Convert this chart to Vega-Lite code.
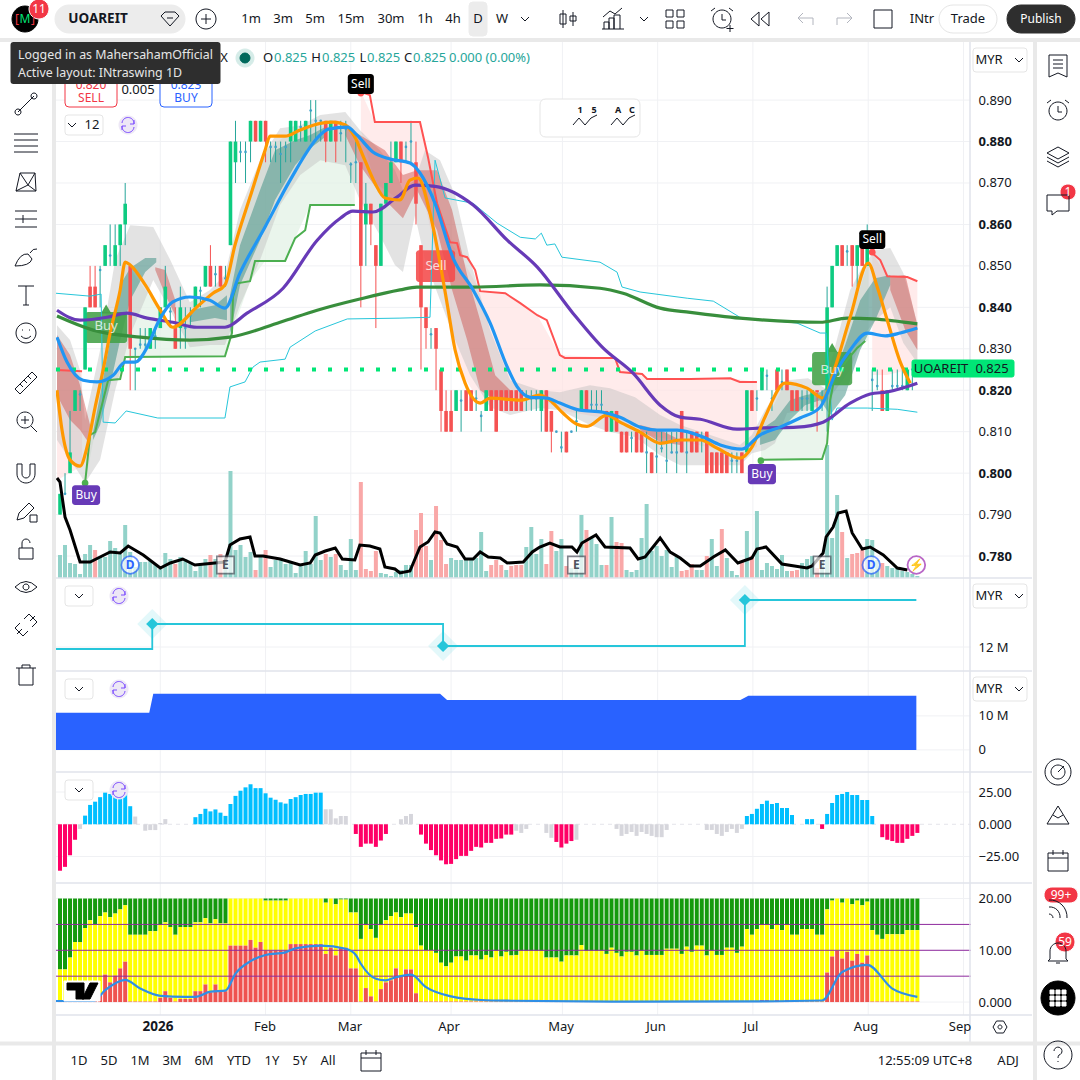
{
"$schema":"https://vega.github.io/schema/vega-lite/v6.json",
"width":1080,"height":1080,"padding":0,"autosize":{"type":"none"},"background":"#ffffff",
"config":{"view":{"stroke":null},"axis":{"disable":true},"legend":{"disable":true},"text":{"font":"Noto Sans","baseline":"middle"},"font":"Noto Sans"},
"resolve":{"scale":{"x":"independent","y":"independent"}},
"datasets":{
"candles":[
{"i":0,"o":0.79,"c":0.795,"h":0.795,"l":0.79,"d":"u"},{"i":1,"o":0.795,"c":0.795,"h":0.8,"l":0.795,"d":"n"},{"i":2,"o":0.8,"c":0.805,"h":0.815,"l":0.8,"d":"u"},{"i":3,"o":0.815,"c":0.82,"h":0.82,"l":0.815,"d":"u"},{"i":4,"o":0.819,"c":0.819,"h":0.82,"l":0.815,"d":"n"},{"i":5,"o":0.825,"c":0.84,"h":0.84,"l":0.825,"d":"u"},{"i":6,"o":0.845,"c":0.84,"h":0.85,"l":0.84,"d":"d"},{"i":7,"o":0.845,"c":0.84,"h":0.85,"l":0.84,"d":"d"},{"i":8,"o":0.849,"c":0.849,"h":0.85,"l":0.84,"d":"n"},{"i":9,"o":0.85,"c":0.855,"h":0.855,"l":0.85,"d":"u"},
{"i":10,"o":0.8525,"c":0.8525,"h":0.86,"l":0.85,"d":"n"},{"i":11,"o":0.85,"c":0.855,"h":0.86,"l":0.85,"d":"u"},{"i":12,"o":0.855,"c":0.86,"h":0.86,"l":0.85,"d":"u"},{"i":13,"o":0.86,"c":0.865,"h":0.87,"l":0.855,"d":"u"},{"i":14,"o":0.85,"c":0.83,"h":0.85,"l":0.82,"d":"d"},{"i":15,"o":0.83,"c":0.83,"h":0.83,"l":0.82,"d":"n"},{"i":16,"o":0.831,"c":0.831,"h":0.835,"l":0.83,"d":"n"},{"i":17,"o":0.831,"c":0.831,"h":0.835,"l":0.83,"d":"n"},{"i":18,"o":0.83,"c":0.835,"h":0.835,"l":0.83,"d":"u"},{"i":19,"o":0.833,"c":0.833,"h":0.835,"l":0.83,"d":"n"},
{"i":20,"o":0.835,"c":0.84,"h":0.84,"l":0.835,"d":"u"},{"i":21,"o":0.84,"c":0.845,"h":0.85,"l":0.84,"d":"u"},{"i":22,"o":0.839,"c":0.839,"h":0.84,"l":0.835,"d":"n"},{"i":23,"o":0.835,"c":0.83,"h":0.84,"l":0.83,"d":"d"},{"i":24,"o":0.835,"c":0.84,"h":0.845,"l":0.83,"d":"u"},{"i":25,"o":0.835,"c":0.835,"h":0.84,"l":0.83,"d":"n"},{"i":26,"o":0.838,"c":0.838,"h":0.84,"l":0.835,"d":"n"},{"i":27,"o":0.84,"c":0.845,"h":0.845,"l":0.84,"d":"u"},{"i":28,"o":0.844,"c":0.844,"h":0.845,"l":0.84,"d":"n"},{"i":29,"o":0.845,"c":0.85,"h":0.85,"l":0.845,"d":"u"},
{"i":30,"o":0.85,"c":0.845,"h":0.855,"l":0.845,"d":"d"},{"i":31,"o":0.848,"c":0.848,"h":0.85,"l":0.845,"d":"n"},{"i":32,"o":0.85,"c":0.845,"h":0.85,"l":0.845,"d":"d"},{"i":33,"o":0.847,"c":0.847,"h":0.85,"l":0.845,"d":"n"},{"i":34,"o":0.855,"c":0.88,"h":0.88,"l":0.855,"d":"u"},{"i":35,"o":0.875,"c":0.88,"h":0.885,"l":0.87,"d":"u"},{"i":36,"o":0.8775,"c":0.8775,"h":0.88,"l":0.875,"d":"n"},{"i":37,"o":0.8775,"c":0.8775,"h":0.88,"l":0.87,"d":"n"},{"i":38,"o":0.88,"c":0.885,"h":0.885,"l":0.875,"d":"u"},{"i":39,"o":0.885,"c":0.88,"h":0.885,"l":0.88,"d":"d"},
{"i":40,"o":0.88,"c":0.885,"h":0.885,"l":0.88,"d":"u"},{"i":41,"o":0.885,"c":0.88,"h":0.885,"l":0.875,"d":"d"},{"i":42,"o":0.8787,"c":0.8787,"h":0.88,"l":0.875,"d":"n"},{"i":43,"o":0.8787,"c":0.8787,"h":0.88,"l":0.875,"d":"n"},{"i":44,"o":0.877,"c":0.877,"h":0.88,"l":0.87,"d":"n"},{"i":45,"o":0.8787,"c":0.8787,"h":0.88,"l":0.875,"d":"n"},{"i":46,"o":0.88,"c":0.885,"h":0.885,"l":0.875,"d":"u"},{"i":47,"o":0.88,"c":0.885,"h":0.885,"l":0.88,"d":"u"},{"i":48,"o":0.8835,"c":0.8835,"h":0.885,"l":0.88,"d":"n"},{"i":49,"o":0.88,"c":0.885,"h":0.885,"l":0.88,"d":"u"},
{"i":50,"o":0.8875,"c":0.8875,"h":0.89,"l":0.88,"d":"n"},{"i":51,"o":0.885,"c":0.885,"h":0.89,"l":0.88,"d":"n"},{"i":52,"o":0.885,"c":0.885,"h":0.885,"l":0.88,"d":"n"},{"i":53,"o":0.885,"c":0.88,"h":0.885,"l":0.875,"d":"d"},{"i":54,"o":0.88,"c":0.885,"h":0.885,"l":0.88,"d":"u"},{"i":55,"o":0.885,"c":0.88,"h":0.885,"l":0.875,"d":"d"},{"i":56,"o":0.882,"c":0.882,"h":0.885,"l":0.88,"d":"n"},{"i":57,"o":0.883,"c":0.883,"h":0.885,"l":0.875,"d":"n"},{"i":58,"o":0.8745,"c":0.8745,"h":0.875,"l":0.87,"d":"n"},{"i":59,"o":0.875,"c":0.875,"h":0.88,"l":0.87,"d":"n"},
{"i":60,"o":0.875,"c":0.85,"h":0.875,"l":0.84,"d":"d"},{"i":61,"o":0.86,"c":0.865,"h":0.87,"l":0.85,"d":"u"},{"i":62,"o":0.865,"c":0.86,"h":0.865,"l":0.855,"d":"d"},{"i":63,"o":0.855,"c":0.85,"h":0.855,"l":0.835,"d":"d"},{"i":64,"o":0.85,"c":0.865,"h":0.865,"l":0.85,"d":"u"},{"i":65,"o":0.865,"c":0.87,"h":0.87,"l":0.865,"d":"u"},{"i":66,"o":0.87,"c":0.875,"h":0.88,"l":0.87,"d":"u"},{"i":67,"o":0.875,"c":0.88,"h":0.88,"l":0.875,"d":"u"},{"i":68,"o":0.88,"c":0.875,"h":0.88,"l":0.87,"d":"d"},{"i":69,"o":0.8787,"c":0.8787,"h":0.88,"l":0.875,"d":"n"},
{"i":70,"o":0.88,"c":0.88,"h":0.885,"l":0.875,"d":"n"},{"i":71,"o":0.875,"c":0.865,"h":0.88,"l":0.86,"d":"d"},{"i":72,"o":0.855,"c":0.84,"h":0.855,"l":0.825,"d":"d"},{"i":73,"o":0.84,"c":0.835,"h":0.84,"l":0.83,"d":"d"},{"i":74,"o":0.8335,"c":0.8335,"h":0.835,"l":0.83,"d":"n"},{"i":75,"o":0.835,"c":0.83,"h":0.835,"l":0.82,"d":"d"},{"i":76,"o":0.825,"c":0.815,"h":0.825,"l":0.81,"d":"d"},{"i":77,"o":0.815,"c":0.81,"h":0.82,"l":0.81,"d":"d"},{"i":78,"o":0.815,"c":0.81,"h":0.82,"l":0.81,"d":"d"},{"i":79,"o":0.815,"c":0.82,"h":0.82,"l":0.815,"d":"u"},
{"i":80,"o":0.8175,"c":0.8175,"h":0.82,"l":0.81,"d":"n"},{"i":81,"o":0.82,"c":0.815,"h":0.82,"l":0.815,"d":"d"},{"i":82,"o":0.82,"c":0.815,"h":0.82,"l":0.815,"d":"d"},{"i":83,"o":0.818,"c":0.818,"h":0.82,"l":0.815,"d":"n"},{"i":84,"o":0.8138,"c":0.8138,"h":0.815,"l":0.81,"d":"n"},{"i":85,"o":0.815,"c":0.82,"h":0.82,"l":0.815,"d":"u"},{"i":86,"o":0.82,"c":0.815,"h":0.82,"l":0.815,"d":"d"},{"i":87,"o":0.82,"c":0.81,"h":0.82,"l":0.81,"d":"d"},{"i":88,"o":0.82,"c":0.815,"h":0.82,"l":0.815,"d":"d"},{"i":89,"o":0.82,"c":0.815,"h":0.82,"l":0.815,"d":"d"},
{"i":90,"o":0.82,"c":0.815,"h":0.82,"l":0.815,"d":"d"},{"i":91,"o":0.82,"c":0.815,"h":0.82,"l":0.815,"d":"d"},{"i":92,"o":0.82,"c":0.815,"h":0.82,"l":0.815,"d":"d"},{"i":93,"o":0.818,"c":0.818,"h":0.82,"l":0.815,"d":"n"},{"i":94,"o":0.818,"c":0.818,"h":0.82,"l":0.815,"d":"n"},{"i":95,"o":0.818,"c":0.818,"h":0.82,"l":0.815,"d":"n"},{"i":96,"o":0.815,"c":0.82,"h":0.82,"l":0.81,"d":"u"},{"i":97,"o":0.82,"c":0.81,"h":0.82,"l":0.81,"d":"d"},{"i":98,"o":0.815,"c":0.81,"h":0.815,"l":0.805,"d":"d"},{"i":99,"o":0.81,"c":0.81,"h":0.81,"l":0.81,"d":"n"},
{"i":100,"o":0.8062,"c":0.8062,"h":0.81,"l":0.805,"d":"n"},{"i":101,"o":0.81,"c":0.805,"h":0.81,"l":0.805,"d":"d"},{"i":102,"o":0.81,"c":0.81,"h":0.81,"l":0.81,"d":"n"},{"i":103,"o":0.8125,"c":0.8125,"h":0.815,"l":0.81,"d":"n"},{"i":104,"o":0.815,"c":0.82,"h":0.82,"l":0.815,"d":"u"},{"i":105,"o":0.82,"c":0.815,"h":0.82,"l":0.815,"d":"d"},{"i":106,"o":0.8165,"c":0.8165,"h":0.82,"l":0.815,"d":"n"},{"i":107,"o":0.8165,"c":0.8165,"h":0.82,"l":0.815,"d":"n"},{"i":108,"o":0.8165,"c":0.8165,"h":0.82,"l":0.815,"d":"n"},{"i":109,"o":0.815,"c":0.81,"h":0.815,"l":0.81,"d":"d"},
{"i":110,"o":0.81,"c":0.815,"h":0.815,"l":0.81,"d":"u"},{"i":111,"o":0.815,"c":0.81,"h":0.815,"l":0.81,"d":"d"},{"i":112,"o":0.81,"c":0.805,"h":0.81,"l":0.805,"d":"d"},{"i":113,"o":0.81,"c":0.805,"h":0.81,"l":0.805,"d":"d"},{"i":114,"o":0.8085,"c":0.8085,"h":0.81,"l":0.805,"d":"n"},{"i":115,"o":0.81,"c":0.805,"h":0.81,"l":0.805,"d":"d"},{"i":116,"o":0.81,"c":0.805,"h":0.81,"l":0.805,"d":"d"},{"i":117,"o":0.805,"c":0.805,"h":0.81,"l":0.8,"d":"n"},{"i":118,"o":0.805,"c":0.8,"h":0.805,"l":0.8,"d":"d"},{"i":119,"o":0.804,"c":0.804,"h":0.81,"l":0.8,"d":"n"},
{"i":120,"o":0.806,"c":0.806,"h":0.81,"l":0.805,"d":"n"},{"i":121,"o":0.803,"c":0.803,"h":0.81,"l":0.8,"d":"n"},{"i":122,"o":0.805,"c":0.805,"h":0.81,"l":0.805,"d":"n"},{"i":123,"o":0.805,"c":0.805,"h":0.81,"l":0.8,"d":"n"},{"i":124,"o":0.815,"c":0.805,"h":0.815,"l":0.805,"d":"d"},{"i":125,"o":0.805,"c":0.805,"h":0.81,"l":0.8,"d":"n"},{"i":126,"o":0.81,"c":0.805,"h":0.81,"l":0.805,"d":"d"},{"i":127,"o":0.81,"c":0.805,"h":0.81,"l":0.805,"d":"d"},{"i":128,"o":0.8085,"c":0.8085,"h":0.81,"l":0.805,"d":"n"},{"i":129,"o":0.81,"c":0.8,"h":0.81,"l":0.8,"d":"d"},
{"i":130,"o":0.805,"c":0.8,"h":0.805,"l":0.8,"d":"d"},{"i":131,"o":0.805,"c":0.8,"h":0.805,"l":0.8,"d":"d"},{"i":132,"o":0.805,"c":0.8,"h":0.805,"l":0.8,"d":"d"},{"i":133,"o":0.805,"c":0.8,"h":0.805,"l":0.8,"d":"d"},{"i":134,"o":0.803,"c":0.803,"h":0.805,"l":0.8,"d":"n"},{"i":135,"o":0.803,"c":0.803,"h":0.805,"l":0.8,"d":"n"},{"i":136,"o":0.805,"c":0.8,"h":0.805,"l":0.8,"d":"d"},{"i":137,"o":0.805,"c":0.82,"h":0.82,"l":0.805,"d":"u"},{"i":138,"o":0.82,"c":0.815,"h":0.82,"l":0.815,"d":"d"},{"i":139,"o":0.818,"c":0.818,"h":0.82,"l":0.815,"d":"n"},
{"i":140,"o":0.82,"c":0.825,"h":0.825,"l":0.82,"d":"u"},{"i":141,"o":0.8235,"c":0.8235,"h":0.825,"l":0.82,"d":"n"},{"i":142,"o":0.818,"c":0.818,"h":0.82,"l":0.815,"d":"n"},{"i":143,"o":0.825,"c":0.82,"h":0.825,"l":0.82,"d":"d"},{"i":144,"o":0.822,"c":0.822,"h":0.825,"l":0.82,"d":"n"},{"i":145,"o":0.825,"c":0.82,"h":0.825,"l":0.82,"d":"d"},{"i":146,"o":0.82,"c":0.815,"h":0.82,"l":0.815,"d":"d"},{"i":147,"o":0.82,"c":0.815,"h":0.82,"l":0.815,"d":"d"},{"i":148,"o":0.818,"c":0.818,"h":0.82,"l":0.815,"d":"n"},{"i":149,"o":0.818,"c":0.818,"h":0.82,"l":0.815,"d":"n"},
{"i":150,"o":0.815,"c":0.82,"h":0.82,"l":0.815,"d":"u"},{"i":151,"o":0.82,"c":0.8195,"h":0.82,"l":0.81,"d":"d"},{"i":152,"o":0.818,"c":0.818,"h":0.82,"l":0.815,"d":"n"},{"i":153,"o":0.82,"c":0.84,"h":0.845,"l":0.81,"d":"u"},{"i":154,"o":0.84,"c":0.85,"h":0.85,"l":0.84,"d":"u"},{"i":155,"o":0.85,"c":0.855,"h":0.855,"l":0.85,"d":"u"},{"i":156,"o":0.855,"c":0.85,"h":0.855,"l":0.85,"d":"d"},{"i":157,"o":0.8535,"c":0.8535,"h":0.855,"l":0.85,"d":"n"},{"i":158,"o":0.855,"c":0.85,"h":0.855,"l":0.845,"d":"d"},{"i":159,"o":0.85,"c":0.855,"h":0.855,"l":0.845,"d":"u"},
{"i":160,"o":0.855,"c":0.85,"h":0.855,"l":0.85,"d":"d"},{"i":161,"o":0.85,"c":0.855,"h":0.86,"l":0.85,"d":"u"},{"i":162,"o":0.8225,"c":0.8225,"h":0.825,"l":0.815,"d":"n"},{"i":163,"o":0.821,"c":0.821,"h":0.825,"l":0.82,"d":"n"},{"i":164,"o":0.82,"c":0.815,"h":0.825,"l":0.815,"d":"d"},{"i":165,"o":0.815,"c":0.82,"h":0.82,"l":0.815,"d":"u"},{"i":166,"o":0.821,"c":0.821,"h":0.825,"l":0.82,"d":"n"},{"i":167,"o":0.821,"c":0.821,"h":0.825,"l":0.82,"d":"n"},{"i":168,"o":0.821,"c":0.821,"h":0.825,"l":0.82,"d":"n"},{"i":169,"o":0.82,"c":0.825,"h":0.825,"l":0.82,"d":"u"},{"i":170,"o":0.825,"c":0.825,"h":0.825,"l":0.82,"d":"n"},{"i":171,"o":0.825,"c":0.825,"h":0.825,"l":0.825,"d":"n"}
],
"vol":[{"i":0,"v":23},{"i":1,"v":33},{"i":2,"v":15},{"i":3,"v":14},{"i":4,"v":4},{"i":5,"v":24},{"i":6,"v":33},{"i":7,"v":28,"w":1},{"i":8,"v":21},{"i":9,"v":21},{"i":10,"v":37},{"i":11,"v":30},{"i":12,"v":24},{"i":13,"v":53},{"i":14,"v":26},{"i":15,"v":11},{"i":16,"v":16},{"i":17,"v":16},{"i":18,"v":17},{"i":19,"v":14},{"i":20,"v":9},{"i":21,"v":25},{"i":22,"v":19},{"i":23,"v":14,"w":1},{"i":24,"v":21},{"i":25,"v":19},{"i":26,"v":16},{"i":27,"v":7},{"i":28,"v":13},{"i":29,"v":19},{"i":30,"v":23,"w":1},{"i":31,"v":19},{"i":32,"v":24,"w":1},{"i":33,"v":20},{"i":34,"v":107},{"i":35,"v":28},{"i":36,"v":33},{"i":37,"v":21},{"i":38,"v":26},{"i":39,"v":8,"w":1},{"i":40,"v":21},{"i":41,"v":28,"w":1},{"i":42,"v":11},{"i":43,"v":18},{"i":44,"v":20},{"i":45,"v":14},{"i":46,"v":16},{"i":47,"v":5},{"i":48,"v":14},{"i":49,"v":27},{"i":50,"v":14},{"i":51,"v":62},{"i":52,"v":18},{"i":53,"v":24,"w":1},{"i":54,"v":21},{"i":55,"v":24,"w":1},{"i":56,"v":13},{"i":57,"v":8},{"i":58,"v":39},{"i":59,"v":8},{"i":60,"v":96,"w":1},{"i":61,"v":9,"w":1},{"i":62,"v":7,"w":1},{"i":63,"v":27,"w":1},{"i":64,"v":5},{"i":65,"v":4},{"i":66,"v":2},{"i":67,"v":6},{"i":68,"v":8},{"i":69,"v":13},{"i":70,"v":13},{"i":71,"v":48,"w":1},{"i":72,"v":65,"w":1},{"i":73,"v":32,"w":1},{"i":74,"v":18},{"i":75,"v":72,"w":1},{"i":76,"v":38,"w":1},{"i":77,"v":14,"w":1},{"i":78,"v":20},{"i":79,"v":18},{"i":80,"v":18},{"i":81,"v":18},{"i":82,"v":20},{"i":83,"v":20},{"i":84,"v":46},{"i":85,"v":7},{"i":86,"v":13,"w":1},{"i":87,"v":18,"w":1},{"i":88,"v":13,"w":1},{"i":89,"v":8},{"i":90,"v":12,"w":1},{"i":91,"v":13,"w":1},{"i":92,"v":13,"w":1},{"i":93,"v":31},{"i":94,"v":51},{"i":95,"v":24},{"i":96,"v":39},{"i":97,"v":14,"w":1},{"i":98,"v":47,"w":1},{"i":99,"v":27},{"i":100,"v":39},{"i":101,"v":12,"w":1},{"i":102,"v":10},{"i":103,"v":15},{"i":104,"v":63},{"i":105,"v":48,"w":1},{"i":106,"v":40},{"i":107,"v":34},{"i":108,"v":13},{"i":109,"v":13,"w":1},{"i":110,"v":61},{"i":111,"v":36,"w":1},{"i":112,"v":35,"w":1},{"i":113,"v":8},{"i":114,"v":6},{"i":115,"v":8},{"i":116,"v":40},{"i":117,"v":74},{"i":118,"v":27},{"i":119,"v":32},{"i":120,"v":22},{"i":121,"v":28},{"i":122,"v":11},{"i":123,"v":22},{"i":124,"v":7,"w":1},{"i":125,"v":8,"w":1},{"i":126,"v":14,"w":1},{"i":127,"v":8},{"i":128,"v":8},{"i":129,"v":22,"w":1},{"i":130,"v":39},{"i":131,"v":12},{"i":132,"v":49,"w":1},{"i":133,"v":20},{"i":134,"v":7},{"i":135,"v":3},{"i":136,"v":17,"w":1},{"i":137,"v":47},{"i":138,"v":22,"w":1},{"i":139,"v":67},{"i":140,"v":8},{"i":141,"v":15},{"i":142,"v":12},{"i":143,"v":9},{"i":144,"v":23},{"i":145,"v":7},{"i":146,"v":7,"w":1},{"i":147,"v":8,"w":1},{"i":148,"v":15},{"i":149,"v":19},{"i":150,"v":22},{"i":151,"v":10,"w":1},{"i":152,"v":18},{"i":153,"v":133},{"i":154,"v":40},{"i":155,"v":83},{"i":156,"v":46,"w":1},{"i":157,"v":20},{"i":158,"v":24,"w":1},{"i":159,"v":25,"w":1},{"i":160,"v":28,"w":1},{"i":161,"v":39},{"i":162,"v":38},{"i":163,"v":18},{"i":164,"v":15,"w":1},{"i":165,"v":12},{"i":166,"v":10},{"i":167,"v":10},{"i":168,"v":7},{"i":169,"v":6},{"i":170,"v":4},{"i":171,"v":2}],
"volline":[{"i":-0.6,"v":100},{"i":0,"v":96},{"i":1,"v":61},{"i":2,"v":48},{"i":4,"v":16},{"i":6,"v":16},{"i":8,"v":21},{"i":10,"v":26},{"i":12,"v":25},{"i":13.6,"v":32},{"i":16.6,"v":23},{"i":20,"v":10},{"i":22,"v":15},{"i":24.5,"v":19},{"i":26.9,"v":13},{"i":30.9,"v":15},{"i":32.9,"v":16},{"i":33.9,"v":33},{"i":35.9,"v":39},{"i":37.9,"v":41},{"i":38.9,"v":22},{"i":40.5,"v":22},{"i":43.9,"v":19},{"i":47.9,"v":13},{"i":49.9,"v":15},{"i":50.9,"v":23},{"i":52.9,"v":27},{"i":54.9,"v":30},{"i":56.3,"v":19},{"i":58.8,"v":18},{"i":59.8,"v":33},{"i":61.8,"v":32},{"i":63.8,"v":29},{"i":64.8,"v":11},{"i":66.8,"v":9},{"i":67.8,"v":5},{"i":69.8,"v":7},{"i":71.8,"v":31},{"i":73.4,"v":36},{"i":74.8,"v":46},{"i":75.8,"v":45},{"i":77.2,"v":34},{"i":79.2,"v":31},{"i":80.8,"v":19},{"i":82.4,"v":19},{"i":83.8,"v":26},{"i":85.4,"v":21},{"i":87.8,"v":20},{"i":89.2,"v":15},{"i":92.4,"v":16},{"i":94.2,"v":26},{"i":95.7,"v":31},{"i":97.7,"v":35},{"i":99.7,"v":31},{"i":102.1,"v":31},{"i":103.1,"v":26},{"i":104.1,"v":35},{"i":106.9,"v":43},{"i":108.7,"v":31},{"i":113.7,"v":30},{"i":115.3,"v":19},{"i":116.7,"v":21},{"i":119.7,"v":40},{"i":121.7,"v":26},{"i":123.7,"v":20},{"i":125.7,"v":12},{"i":127.7,"v":12},{"i":130.3,"v":21},{"i":132.7,"v":28},{"i":135.2,"v":15},{"i":138,"v":20},{"i":139,"v":29},{"i":140.8,"v":31},{"i":144,"v":14},{"i":149,"v":10},{"i":150,"v":12},{"i":152.2,"v":25},{"i":152.8,"v":41},{"i":154.2,"v":51},{"i":155.2,"v":65},{"i":156.8,"v":67},{"i":158,"v":45},{"i":160,"v":29},{"i":161.6,"v":31},{"i":164.2,"v":23},{"i":167,"v":10},{"i":169,"v":8}],
"orange":[{"i":-0.6,"p":0.82},{"i":0.4,"p":0.8104},{"i":2,"p":0.8032},{"i":4,"p":0.8017},{"i":5.4,"p":0.8063},{"i":7,"p":0.8159},{"i":8.6,"p":0.8249},{"i":10,"p":0.8338},{"i":12,"p":0.8442},{"i":13,"p":0.8509},{"i":14,"p":0.8502},{"i":17,"p":0.8454},{"i":20,"p":0.8393},{"i":22.5,"p":0.8352},{"i":27.3,"p":0.8401},{"i":30.5,"p":0.8434},{"i":32.9,"p":0.8454},{"i":34.9,"p":0.855},{"i":37.9,"p":0.8666},{"i":40.9,"p":0.8779},{"i":41.9,"p":0.8813},{"i":44.9,"p":0.8813},{"i":47.9,"p":0.8828},{"i":51.9,"p":0.8844},{"i":54.5,"p":0.8847},{"i":56.9,"p":0.884},{"i":58.8,"p":0.8811},{"i":60.8,"p":0.8755},{"i":62.8,"p":0.87},{"i":64.8,"p":0.8664},{"i":67.8,"p":0.8659},{"i":69.8,"p":0.8707},{"i":71.4,"p":0.8712},{"i":73.8,"p":0.8627},{"i":75.8,"p":0.8507},{"i":77.2,"p":0.841},{"i":78.8,"p":0.8297},{"i":80.8,"p":0.8217},{"i":83.8,"p":0.8169},{"i":85.8,"p":0.8181},{"i":91.8,"p":0.8176},{"i":95.7,"p":0.8188},{"i":97.7,"p":0.8176},{"i":100.3,"p":0.8145},{"i":103.1,"p":0.8118},{"i":105.1,"p":0.8113},{"i":109.1,"p":0.814},{"i":111.7,"p":0.8123},{"i":115.7,"p":0.8099},{"i":119.7,"p":0.8072},{"i":123.7,"p":0.808},{"i":127.7,"p":0.808},{"i":131.1,"p":0.806},{"i":135.6,"p":0.8036},{"i":138,"p":0.8063},{"i":140.6,"p":0.8135},{"i":144.6,"p":0.8217},{"i":149,"p":0.8205},{"i":152.2,"p":0.8181},{"i":154.6,"p":0.8256},{"i":157.6,"p":0.8376},{"i":161.2,"p":0.8507},{"i":163,"p":0.8449},{"i":165,"p":0.8369},{"i":167.6,"p":0.8268},{"i":169.6,"p":0.8217}],
"blue":[{"i":-0.6,"p":0.8328},{"i":1.4,"p":0.8268},{"i":4.6,"p":0.8224},{"i":7.4,"p":0.822},{"i":10.6,"p":0.8236},{"i":13,"p":0.8268},{"i":15,"p":0.8268},{"i":17.4,"p":0.8304},{"i":19.5,"p":0.8362},{"i":22.5,"p":0.8413},{"i":25.9,"p":0.8425},{"i":29.9,"p":0.8417},{"i":32.9,"p":0.8398},{"i":35.9,"p":0.8483},{"i":40.9,"p":0.8594},{"i":45.9,"p":0.8707},{"i":51.9,"p":0.8816},{"i":53.5,"p":0.883},{"i":57.3,"p":0.8835},{"i":59.2,"p":0.8816},{"i":62.4,"p":0.8775},{"i":65.8,"p":0.8758},{"i":69.8,"p":0.8748},{"i":71.8,"p":0.8724},{"i":74.8,"p":0.8651},{"i":78.4,"p":0.8519},{"i":82.4,"p":0.8442},{"i":85.8,"p":0.8362},{"i":89.2,"p":0.8256},{"i":91.2,"p":0.8208},{"i":93.8,"p":0.8183},{"i":97.1,"p":0.8181},{"i":99.7,"p":0.8169},{"i":103.7,"p":0.8152},{"i":108.3,"p":0.8147},{"i":111.7,"p":0.8135},{"i":115.7,"p":0.8111},{"i":119.1,"p":0.8104},{"i":123.1,"p":0.8104},{"i":128.3,"p":0.8087},{"i":131.7,"p":0.8068},{"i":136,"p":0.8058},{"i":139.6,"p":0.8092},{"i":143.6,"p":0.8111},{"i":147.6,"p":0.8133},{"i":151.6,"p":0.8159},{"i":155,"p":0.8249},{"i":157.6,"p":0.8297},{"i":161,"p":0.8338},{"i":164.6,"p":0.8331},{"i":167.6,"p":0.8338},{"i":171,"p":0.835}],
"purple":[{"i":-0.6,"p":0.8393},{"i":4,"p":0.8369},{"i":9.4,"p":0.8376},{"i":13.4,"p":0.8386},{"i":17.4,"p":0.8374},{"i":22.5,"p":0.8364},{"i":27.3,"p":0.8352},{"i":32.9,"p":0.8352},{"i":37.3,"p":0.8386},{"i":44.5,"p":0.8446},{"i":51.3,"p":0.8562},{"i":55.9,"p":0.8615},{"i":58.4,"p":0.8632},{"i":62.4,"p":0.863},{"i":67.2,"p":0.8666},{"i":70.8,"p":0.8695},{"i":74.8,"p":0.8692},{"i":82.4,"p":0.8647},{"i":89.2,"p":0.8562},{"i":95.2,"p":0.8497},{"i":102.3,"p":0.8386},{"i":108.3,"p":0.8302},{"i":114.3,"p":0.8241},{"i":119.7,"p":0.8164},{"i":123.7,"p":0.8135},{"i":127.7,"p":0.813},{"i":135,"p":0.8106},{"i":140.2,"p":0.8109},{"i":147,"p":0.8111},{"i":152.2,"p":0.8123},{"i":157.6,"p":0.8169},{"i":161.6,"p":0.8191},{"i":165,"p":0.8196},{"i":171,"p":0.8217}],
"green":[{"i":-0.6,"p":0.8379},{"i":6.6,"p":0.8345},{"i":16,"p":0.8328},{"i":25.9,"p":0.8321},{"i":33.9,"p":0.8328},{"i":43.9,"p":0.8364},{"i":51.3,"p":0.8393},{"i":59.8,"p":0.842},{"i":67.8,"p":0.8442},{"i":71.2,"p":0.8449},{"i":82.4,"p":0.8449},{"i":95.7,"p":0.8454},{"i":107.7,"p":0.8446},{"i":112.3,"p":0.8434},{"i":119.7,"p":0.8398},{"i":125.7,"p":0.8388},{"i":135.6,"p":0.8374},{"i":151.6,"p":0.8364},{"i":157,"p":0.8374},{"i":162.2,"p":0.8372},{"i":171,"p":0.836}],
"cyan":[{"i":-0.8,"p":0.8434},{"i":6,"p":0.8427},{"i":8.2,"p":0.8432},{"i":8.6,"p":0.8123},{"i":11,"p":0.8121},{"i":13.2,"p":0.815},{"i":19.5,"p":0.8133},{"i":32.9,"p":0.8133},{"i":33.9,"p":0.8208},{"i":36.9,"p":0.822},{"i":38.5,"p":0.8256},{"i":39.9,"p":0.8268},{"i":44.9,"p":0.8275},{"i":45.9,"p":0.8304},{"i":50.9,"p":0.8343},{"i":57.3,"p":0.8372},{"i":67.8,"p":0.8374},{"i":73.8,"p":0.8376},{"i":74.8,"p":0.8755},{"i":76.8,"p":0.8664},{"i":82.4,"p":0.8651},{"i":87.2,"p":0.8603},{"i":91.8,"p":0.8569},{"i":94.8,"p":0.8565},{"i":96,"p":0.8579},{"i":97.1,"p":0.855},{"i":98.7,"p":0.8553},{"i":100.1,"p":0.8521},{"i":107.7,"p":0.8509},{"i":111.1,"p":0.8485},{"i":112.1,"p":0.8449},{"i":115.7,"p":0.8437},{"i":125.1,"p":0.8422},{"i":130.3,"p":0.8415},{"i":135.6,"p":0.8376},{"i":147,"p":0.8362},{"i":151.6,"p":0.8338},{"i":152.8,"p":0.8338},{"i":154,"p":0.8128},{"i":155,"p":0.8157},{"i":161,"p":0.8157},{"i":167,"p":0.8154},{"i":171,"p":0.8147}],
"redtrail":[{"s":0,"i":-0.6,"p":0.8249},{"s":0,"i":4.4,"p":0.8246},{"s":1,"i":60,"p":0.892},{"s":1,"i":61.8,"p":0.8912},{"s":1,"i":62.8,"p":0.8847},{"s":1,"i":71.8,"p":0.8847},{"s":1,"i":73.4,"p":0.8762},{"s":1,"i":75.2,"p":0.8651},{"s":1,"i":77.8,"p":0.8557},{"s":1,"i":79.2,"p":0.8555},{"s":1,"i":79.8,"p":0.8526},{"s":1,"i":81.2,"p":0.8521},{"s":1,"i":82.8,"p":0.849},{"s":1,"i":83.8,"p":0.8439},{"s":1,"i":88.8,"p":0.8434},{"s":1,"i":91.8,"p":0.841},{"s":1,"i":95.2,"p":0.8381},{"s":1,"i":97.1,"p":0.8369},{"s":1,"i":99.7,"p":0.8285},{"s":1,"i":100.7,"p":0.8278},{"s":1,"i":110.7,"p":0.8278},{"s":1,"i":111.7,"p":0.8244},{"s":1,"i":116.1,"p":0.8239},{"s":1,"i":117.1,"p":0.8227},{"s":1,"i":125.7,"p":0.8227},{"s":1,"i":133.7,"p":0.8229},{"s":1,"i":135.6,"p":0.822},{"s":1,"i":139,"p":0.822},{"s":2,"i":162,"p":0.8531},{"s":2,"i":163.6,"p":0.8514},{"s":2,"i":165,"p":0.8475},{"s":2,"i":169,"p":0.8473},{"s":2,"i":171,"p":0.8463}],
"pinkfill":[{"s":0,"i":-0.6,"a":0.8249,"b":0.7983},{"s":0,"i":4.4,"a":0.8246,"b":0.8017},{"s":1,"i":60,"a":0.892,"b":0.8828},{"s":1,"i":62.8,"a":0.8847,"b":0.87},{"s":1,"i":67.8,"a":0.8847,"b":0.8659},{"s":1,"i":71.8,"a":0.8847,"b":0.8707},{"s":1,"i":75.2,"a":0.8651,"b":0.8514},{"s":1,"i":77.8,"a":0.8557,"b":0.8345},{"s":1,"i":79.8,"a":0.8526,"b":0.8249},{"s":1,"i":83.8,"a":0.8439,"b":0.8169},{"s":1,"i":88.8,"a":0.8434,"b":0.8176},{"s":1,"i":95.2,"a":0.8381,"b":0.8186},{"s":1,"i":99.7,"a":0.8285,"b":0.8152},{"s":1,"i":110.7,"a":0.8278,"b":0.8128},{"s":1,"i":117.1,"a":0.8227,"b":0.8092},{"s":1,"i":125.7,"a":0.8227,"b":0.8072},{"s":1,"i":133.7,"a":0.8229,"b":0.8051},{"s":1,"i":139,"a":0.822,"b":0.8063},{"s":2,"i":162,"a":0.8531,"b":0.8237},{"s":2,"i":165,"a":0.8475,"b":0.8237},{"s":2,"i":169,"a":0.8473,"b":0.8249},{"s":2,"i":171,"a":0.8463,"b":0.8249}],
"greenfill":[{"s":0,"i":5,"a":0.7983,"b":0.7976},{"s":0,"i":7,"a":0.8176,"b":0.8099},{"s":0,"i":9.6,"a":0.8333,"b":0.8224},{"s":0,"i":12,"a":0.8442,"b":0.8227},{"s":0,"i":13,"a":0.8509,"b":0.828},{"s":0,"i":20,"a":0.8393,"b":0.828},{"s":0,"i":22.5,"a":0.8352,"b":0.828},{"s":0,"i":27.3,"a":0.8401,"b":0.828},{"s":0,"i":32.9,"a":0.8454,"b":0.828},{"s":0,"i":34.3,"a":0.8526,"b":0.8338},{"s":0,"i":37.9,"a":0.8666,"b":0.8463},{"s":0,"i":40.9,"a":0.8779,"b":0.8512},{"s":0,"i":44.9,"a":0.8813,"b":0.8512},{"s":0,"i":46.9,"a":0.882,"b":0.8567},{"s":0,"i":49.9,"a":0.8835,"b":0.8647},{"s":0,"i":57.8,"a":0.884,"b":0.8647},{"s":0,"i":58.8,"a":0.8811,"b":0.8647},{"s":1,"i":139.8,"a":0.8104,"b":0.8032},{"s":1,"i":144.6,"a":0.8217,"b":0.8032},{"s":1,"i":149,"a":0.8205,"b":0.8032},{"s":1,"i":152,"a":0.8181,"b":0.8034},{"s":1,"i":153,"a":0.82,"b":0.8072},{"s":1,"i":154.6,"a":0.8256,"b":0.8237},{"s":1,"i":157.6,"a":0.8376,"b":0.8285},{"s":1,"i":161.2,"a":0.8507,"b":0.8321}],
"greentrail":[{"s":0,"i":5,"p":0.7976},{"s":0,"i":6,"p":0.8092},{"s":0,"i":7,"p":0.8099},{"s":0,"i":9.6,"p":0.8224},{"s":0,"i":12,"p":0.8227},{"s":0,"i":13,"p":0.828},{"s":0,"i":32.9,"p":0.8282},{"s":0,"i":34.3,"p":0.8338},{"s":0,"i":34.5,"p":0.8425},{"s":0,"i":35.3,"p":0.8458},{"s":0,"i":37.9,"p":0.8463},{"s":0,"i":38.9,"p":0.8512},{"s":0,"i":44.9,"p":0.8512},{"s":0,"i":46.9,"p":0.8567},{"s":0,"i":48.9,"p":0.8586},{"s":0,"i":49.9,"p":0.8647},{"s":0,"i":58.8,"p":0.8647},{"s":1,"i":139.8,"p":0.8032},{"s":1,"i":152,"p":0.8034},{"s":1,"i":153,"p":0.8072},{"s":1,"i":153.6,"p":0.8176},{"s":1,"i":154.6,"p":0.8237},{"s":1,"i":159,"p":0.8302},{"s":1,"i":160.6,"p":0.8319}],
"cloud":[{"i":-0.6,"a":0.8357,"b":0.808},{"i":2,"a":0.8321,"b":0.8032},{"i":4,"a":0.8248,"b":0.7996},{"i":5,"a":0.8128,"b":0.7976},{"i":8,"a":0.8297,"b":0.8032},{"i":11,"a":0.8514,"b":0.82},{"i":14,"a":0.8598,"b":0.8333},{"i":18.6,"a":0.8594,"b":0.8466},{"i":22,"a":0.8514,"b":0.8393},{"i":25.9,"a":0.8412,"b":0.8304},{"i":29.9,"a":0.8442,"b":0.8309},{"i":32.9,"a":0.8478,"b":0.8309},{"i":35.9,"a":0.8635,"b":0.8405},{"i":39.9,"a":0.8755,"b":0.8514},{"i":43.9,"a":0.8832,"b":0.8647},{"i":47.9,"a":0.8839,"b":0.8719},{"i":51.9,"a":0.8864,"b":0.8755},{"i":56.9,"a":0.8871,"b":0.8743},{"i":59.8,"a":0.8828,"b":0.8659},{"i":63.8,"a":0.8779,"b":0.8574},{"i":66.8,"a":0.8731,"b":0.8502},{"i":68.4,"a":0.8683,"b":0.8485},{"i":70.8,"a":0.8707,"b":0.8622},{"i":72.8,"a":0.8779,"b":0.8514},{"i":75.8,"a":0.8755,"b":0.8417},{"i":78.8,"a":0.8671,"b":0.8321},{"i":81.8,"a":0.8514,"b":0.8236},{"i":85.8,"a":0.8345,"b":0.8159},{"i":89.8,"a":0.8224,"b":0.814},{"i":95.7,"a":0.82,"b":0.8157},{"i":99.7,"a":0.8195,"b":0.8152},{"i":105.7,"a":0.8212,"b":0.8116},{"i":109.7,"a":0.8205,"b":0.8099},{"i":114.7,"a":0.8183,"b":0.8087},{"i":119.7,"a":0.814,"b":0.8043},{"i":123.7,"a":0.8116,"b":0.8019},{"i":129.7,"a":0.8092,"b":0.8019},{"i":135.6,"a":0.8068,"b":0.8019},{"i":138,"a":0.8092,"b":0.8048},{"i":140.6,"a":0.8152,"b":0.8056},{"i":142.6,"a":0.8188,"b":0.8072},{"i":145,"a":0.8224,"b":0.8145},{"i":149.2,"a":0.8229,"b":0.8152},{"i":152.6,"a":0.8205,"b":0.8169},{"i":153.6,"a":0.8261,"b":0.8183},{"i":157.6,"a":0.8442,"b":0.8249},{"i":160,"a":0.8497,"b":0.8328},{"i":162.6,"a":0.8538,"b":0.8369},{"i":165.6,"a":0.8543,"b":0.84},{"i":168.2,"a":0.8483,"b":0.8314},{"i":171,"a":0.8362,"b":0.8266}],
"tealband":[{"s":1,"i":6.6,"a":0.8099,"b":0.808},{"s":1,"i":8,"a":0.8188,"b":0.8116},{"s":1,"i":10,"a":0.8321,"b":0.8212},{"s":1,"i":12,"a":0.8454,"b":0.8321},{"s":1,"i":14,"a":0.8495,"b":0.8417},{"s":1,"i":17,"a":0.8519,"b":0.8485},{"s":1,"i":19.2,"a":0.8519,"b":0.8509},{"s":2,"i":25.9,"a":0.8393,"b":0.8364},{"s":2,"i":30.9,"a":0.8405,"b":0.8374},{"s":2,"i":33.3,"a":0.8429,"b":0.8369},{"s":3,"i":33.9,"a":0.8429,"b":0.8333},{"s":3,"i":35.9,"a":0.855,"b":0.8454},{"s":3,"i":39.9,"a":0.8683,"b":0.8562},{"s":3,"i":42.9,"a":0.8779,"b":0.8659},{"s":3,"i":46.9,"a":0.8803,"b":0.8743},{"s":3,"i":49.9,"a":0.8816,"b":0.8784},{"s":3,"i":52.9,"a":0.8835,"b":0.8811},{"s":4,"i":139.6,"a":0.8104,"b":0.8068},{"s":4,"i":142.6,"a":0.8128,"b":0.808},{"s":4,"i":145.6,"a":0.8176,"b":0.8128},{"s":4,"i":148.6,"a":0.8188,"b":0.8164},{"s":4,"i":151.6,"a":0.8195,"b":0.8176},{"s":4,"i":153.6,"a":0.8212,"b":0.814},{"s":4,"i":156.6,"a":0.8309,"b":0.8188},{"s":4,"i":159.6,"a":0.8417,"b":0.8297},{"s":4,"i":162.6,"a":0.847,"b":0.8369},{"s":4,"i":165.6,"a":0.8478,"b":0.8454}],
"redband":[{"s":1,"i":-0.6,"a":0.8333,"b":0.8188},{"s":1,"i":2,"a":0.8285,"b":0.8128},{"s":1,"i":4,"a":0.8212,"b":0.8104},{"s":1,"i":6,"a":0.8116,"b":0.8068},{"s":2,"i":19,"a":0.8497,"b":0.849},{"s":2,"i":21,"a":0.849,"b":0.843},{"s":2,"i":23,"a":0.8417,"b":0.8381},{"s":3,"i":56.9,"a":0.884,"b":0.8816},{"s":3,"i":59.8,"a":0.8816,"b":0.8743},{"s":3,"i":64.8,"a":0.8779,"b":0.8659},{"s":3,"i":68.4,"a":0.8719,"b":0.8615},{"s":3,"i":71.2,"a":0.8731,"b":0.8683},{"s":3,"i":75.2,"a":0.8731,"b":0.8586},{"s":3,"i":78.2,"a":0.8635,"b":0.8442},{"s":3,"i":81.2,"a":0.8478,"b":0.8321},{"s":3,"i":83.8,"a":0.8369,"b":0.82},{"s":3,"i":86.8,"a":0.8236,"b":0.8176},{"s":3,"i":89.8,"a":0.82,"b":0.818},{"s":4,"i":115.7,"a":0.8116,"b":0.8104},{"s":4,"i":119.7,"a":0.8104,"b":0.8075},{"s":4,"i":123.7,"a":0.808,"b":0.8068},{"s":5,"i":165.6,"a":0.8473,"b":0.8442},{"s":5,"i":168.6,"a":0.8478,"b":0.8345},{"s":5,"i":171,"a":0.8357,"b":0.8297}],
"hist":[{"i":0,"m":-36,"c":"p"},{"i":1,"m":-33,"c":"p"},{"i":2,"m":-24,"c":"p"},{"i":3,"m":-12,"c":"p"},{"i":4,"m":-3.6,"c":"g"},{"i":5,"m":6.7,"c":"b"},{"i":6,"m":15,"c":"b"},{"i":7,"m":17.5,"c":"b"},{"i":8,"m":21,"c":"b"},{"i":9,"m":24.5,"c":"b"},{"i":10,"m":23.5,"c":"b"},{"i":11,"m":25,"c":"b"},{"i":12,"m":26.5,"c":"b"},{"i":13,"m":26.5,"c":"b"},{"i":14,"m":14,"c":"b"},{"i":15,"m":6,"c":"g"},{"i":17,"m":-5,"c":"g"},{"i":18,"m":-4.5,"c":"g"},{"i":19,"m":-4.5,"c":"g"},{"i":20,"m":1,"c":"g"},{"i":21,"m":4,"c":"g"},{"i":27,"m":5.5,"c":"b"},{"i":28,"m":8,"c":"b"},{"i":29,"m":12,"c":"b"},{"i":30,"m":10,"c":"b"},{"i":31,"m":11.5,"c":"b"},{"i":32,"m":9,"c":"b"},{"i":33,"m":6.5,"c":"b"},{"i":34,"m":15.7,"c":"b"},{"i":35,"m":22,"c":"b"},{"i":36,"m":26,"c":"b"},{"i":37,"m":28.6,"c":"b"},{"i":38,"m":31,"c":"b"},{"i":39,"m":28,"c":"b"},{"i":40,"m":28,"c":"b"},{"i":41,"m":24,"c":"b"},{"i":42,"m":20.6,"c":"b"},{"i":43,"m":19,"c":"b"},{"i":44,"m":17,"c":"b"},{"i":45,"m":16,"c":"b"},{"i":46,"m":19.6,"c":"b"},{"i":47,"m":21,"c":"b"},{"i":48,"m":22.7,"c":"b"},{"i":49,"m":23.5,"c":"b"},{"i":50,"m":23.5,"c":"b"},{"i":51,"m":24.5,"c":"b"},{"i":52,"m":24.5,"c":"b"},{"i":53,"m":11.6,"c":"g"},{"i":54,"m":11.6,"c":"g"},{"i":55,"m":4.6,"c":"g"},{"i":56,"m":6.4,"c":"g"},{"i":57,"m":6.4,"c":"g"},{"i":59,"m":-7.5,"c":"p"},{"i":60,"m":-17.5,"c":"p"},{"i":61,"m":-15,"c":"p"},{"i":62,"m":-15,"c":"p"},{"i":63,"m":-17.5,"c":"p"},{"i":64,"m":-12.6,"c":"p"},{"i":65,"m":-7.5,"c":"p"},{"i":68,"m":3.9,"c":"g"},{"i":69,"m":6.4,"c":"g"},{"i":70,"m":8,"c":"g"},{"i":72,"m":-8,"c":"p"},{"i":73,"m":-15,"c":"p"},{"i":74,"m":-20,"c":"p"},{"i":75,"m":-24,"c":"p"},{"i":76,"m":-28,"c":"p"},{"i":77,"m":-31,"c":"p"},{"i":78,"m":-30.7,"c":"p"},{"i":79,"m":-27,"c":"p"},{"i":80,"m":-24.5,"c":"p"},{"i":81,"m":-24.5,"c":"p"},{"i":82,"m":-20.6,"c":"p"},{"i":83,"m":-17.5,"c":"p"},{"i":84,"m":-18,"c":"p"},{"i":85,"m":-14.4,"c":"p"},{"i":86,"m":-14.4,"c":"p"},{"i":87,"m":-11.3,"c":"p"},{"i":88,"m":-11,"c":"p"},{"i":89,"m":-8,"c":"p"},{"i":90,"m":-8,"c":"p"},{"i":91,"m":-5,"c":"g"},{"i":92,"m":-6.7,"c":"g"},{"i":93,"m":-3.6,"c":"g"},{"i":97,"m":-6.7,"c":"g"},{"i":98,"m":-10.5,"c":"g"},{"i":99,"m":-13.7,"c":"p"},{"i":100,"m":-18,"c":"p"},{"i":101,"m":-15,"c":"p"},{"i":102,"m":-13,"c":"p"},{"i":103,"m":-12,"c":"g"},{"i":111,"m":-3.6,"c":"g"},{"i":112,"m":-9,"c":"g"},{"i":113,"m":-7.5,"c":"g"},{"i":114,"m":-6,"c":"g"},{"i":115,"m":-9,"c":"g"},{"i":116,"m":-6,"c":"g"},{"i":117,"m":-7.5,"c":"g"},{"i":118,"m":-9,"c":"g"},{"i":119,"m":-10,"c":"g"},{"i":120,"m":-10,"c":"g"},{"i":121,"m":-4.4,"c":"g"},{"i":129,"m":-4.4,"c":"g"},{"i":130,"m":-4.4,"c":"g"},{"i":131,"m":-7.5,"c":"g"},{"i":132,"m":-9,"c":"g"},{"i":133,"m":-6,"c":"g"},{"i":134,"m":-3.6,"c":"g"},{"i":135,"m":-6.7,"c":"g"},{"i":136,"m":-3.6,"c":"g"},{"i":137,"m":6.4,"c":"b"},{"i":138,"m":8,"c":"b"},{"i":139,"m":12,"c":"b"},{"i":140,"m":15.7,"c":"b"},{"i":141,"m":18.3,"c":"b"},{"i":142,"m":15.7,"c":"b"},{"i":143,"m":16.5,"c":"b"},{"i":144,"m":12.6,"c":"b"},{"i":145,"m":12.6,"c":"b"},{"i":146,"m":7.2,"c":"b"},{"i":149,"m":4,"c":"b"},{"i":150,"m":4,"c":"b"},{"i":152,"m":-3.6,"c":"p"},{"i":153,"m":8,"c":"b"},{"i":154,"m":16.5,"c":"b"},{"i":155,"m":22.7,"c":"b"},{"i":156,"m":23.5,"c":"b"},{"i":157,"m":25,"c":"b"},{"i":158,"m":22.7,"c":"b"},{"i":159,"m":22.7,"c":"b"},{"i":160,"m":18.8,"c":"b"},{"i":161,"m":18.8,"c":"b"},{"i":162,"m":6.4,"c":"b"},{"i":164,"m":-10,"c":"p"},{"i":165,"m":-12,"c":"p"},{"i":166,"m":-13,"c":"p"},{"i":167,"m":-14.4,"c":"p"},{"i":168,"m":-14.4,"c":"p"},{"i":169,"m":-11.3,"c":"p"},{"i":170,"m":-9,"c":"p"},{"i":171,"m":-6.7,"c":"p"}],
"stack":[{"i":0,"t":6.3,"r":0.1},{"i":1,"t":6.3,"r":0.1},{"i":2,"t":8.6,"r":0.1},{"i":3,"t":11.6,"r":0.1},{"i":4,"t":11.6,"r":0.1},{"i":5,"t":14.3,"r":0.1},{"i":6,"t":15.8,"r":0.3},{"i":7,"t":15,"r":4},{"i":8,"t":16.6,"r":1.6},{"i":9,"t":17.3,"r":5.3},{"i":10,"t":16.4,"r":3.8},{"i":11,"t":17.1,"r":5.1},{"i":12,"t":17.9,"r":6.5},{"i":13,"t":18.7,"r":7.8},{"i":14,"t":13,"r":0.1},{"i":15,"t":13,"r":0.1},{"i":16,"t":13,"r":0.1},{"i":17,"t":13,"r":0.1},{"i":18,"t":13.7,"r":0.1},{"i":19,"t":13.7,"r":0.1},{"i":20,"t":14.9,"r":0.8},{"i":21,"t":15.4,"r":2.1},{"i":22,"t":14.5,"r":0.8},{"i":23,"t":13,"r":0.1},{"i":24,"t":14.5,"r":0.6},{"i":25,"t":14.5,"r":0.6},{"i":26,"t":14.5,"r":0.6},{"i":27,"t":15.4,"r":2.1},{"i":28,"t":15.4,"r":2.1},{"i":29,"t":16.2,"r":3.4},{"i":30,"t":15.2,"r":1.9},{"i":31,"t":16,"r":3.4},{"i":32,"t":15.2,"r":2.1},{"i":33,"t":15.2,"r":2.1},{"i":34,"t":20,"r":10.9},{"i":35,"t":20,"r":10.9},{"i":36,"t":20,"r":10.9},{"i":37,"t":20,"r":10.9},{"i":38,"t":20,"r":12},{"i":39,"t":20,"r":10.5},{"i":40,"t":20,"r":11.6},{"i":41,"t":19.6,"r":9.9},{"i":42,"t":19.6,"r":9.9},{"i":43,"t":19.6,"r":9.9},{"i":44,"t":19.6,"r":9.9},{"i":45,"t":19.6,"r":9.9},{"i":46,"t":20,"r":11.2},{"i":47,"t":20,"r":11.2},{"i":48,"t":20,"r":11.2},{"i":49,"t":20,"r":11.2},{"i":50,"t":20,"r":11.2},{"i":51,"t":20,"r":11.2},{"i":52,"t":20,"r":11.2},{"i":53,"t":19.2,"r":9.3},{"i":54,"t":20,"r":10.5},{"i":55,"t":18.9,"r":9},{"i":56,"t":19.8,"r":10.5},{"i":57,"t":19.8,"r":10.5},{"i":58,"t":17.3,"r":6.5},{"i":59,"t":17.3,"r":6.5},{"i":60,"t":12.2,"r":0.1},{"i":61,"t":14.9,"r":2.7},{"i":62,"t":14.1,"r":1.1},{"i":63,"t":12.4,"r":0.1},{"i":64,"t":14.9,"r":2.5},{"i":65,"t":15.8,"r":3.8},{"i":66,"t":16.6,"r":4.2},{"i":67,"t":17.3,"r":6.5},{"i":68,"t":16.4,"r":5},{"i":69,"t":17.1,"r":6.3},{"i":70,"t":17.1,"r":6.3},{"i":71,"t":14.5,"r":1.7},{"i":72,"t":10.9,"r":0.1},{"i":73,"t":10,"r":0.1},{"i":74,"t":10,"r":0.1},{"i":75,"t":9.5,"r":0.1},{"i":76,"t":7.6,"r":0.1},{"i":77,"t":6.9,"r":0.1},{"i":78,"t":7.6,"r":0.1},{"i":79,"t":8.8,"r":0.1},{"i":80,"t":8.8,"r":0.1},{"i":81,"t":8,"r":0.1},{"i":82,"t":9,"r":0.1},{"i":83,"t":9,"r":0.1},{"i":84,"t":8.2,"r":0.1},{"i":85,"t":9.1,"r":0.1},{"i":86,"t":8.6,"r":0.1},{"i":87,"t":9.9,"r":0.1},{"i":88,"t":8.8,"r":0.1},{"i":89,"t":9.7,"r":0.1},{"i":90,"t":9,"r":0.1},{"i":91,"t":9.1,"r":0.1},{"i":92,"t":9.9,"r":0.1},{"i":93,"t":9.9,"r":0.1},{"i":94,"t":9.9,"r":0.1},{"i":95,"t":9.9,"r":0.1},{"i":96,"t":9.9,"r":0.1},{"i":97,"t":8.6,"r":0.1},{"i":98,"t":8.6,"r":0.1},{"i":99,"t":8.6,"r":0.1},{"i":100,"t":7.8,"r":0.1},{"i":101,"t":9,"r":0.1},{"i":102,"t":9,"r":0.1},{"i":103,"t":9,"r":0.1},{"i":104,"t":11,"r":0.1},{"i":105,"t":9.9,"r":0.1},{"i":106,"t":9.9,"r":0.1},{"i":107,"t":9.9,"r":0.1},{"i":108,"t":9.9,"r":0.1},{"i":109,"t":9.3,"r":0.1},{"i":110,"t":10.5,"r":0.1},{"i":111,"t":9.5,"r":0.1},{"i":112,"t":8.8,"r":0.1},{"i":113,"t":9.7,"r":0.1},{"i":114,"t":9.7,"r":0.1},{"i":115,"t":9,"r":0.1},{"i":116,"t":9.9,"r":0.1},{"i":117,"t":9.1,"r":0.1},{"i":118,"t":9.1,"r":0.1},{"i":119,"t":9.1,"r":0.1},{"i":120,"t":9.1,"r":0.1},{"i":121,"t":10.3,"r":0.1},{"i":122,"t":10.3,"r":0.1},{"i":123,"t":10.3,"r":0.1},{"i":124,"t":9.3,"r":0.1},{"i":125,"t":10.7,"r":0.1},{"i":126,"t":9.7,"r":0.1},{"i":127,"t":10.9,"r":0.1},{"i":128,"t":10.9,"r":0.1},{"i":129,"t":9,"r":0.1},{"i":130,"t":9.9,"r":0.1},{"i":131,"t":9.1,"r":0.1},{"i":132,"t":9.1,"r":0.1},{"i":133,"t":10.5,"r":0.1},{"i":134,"t":10.5,"r":0.1},{"i":135,"t":9.5,"r":0.1},{"i":136,"t":10.7,"r":0.1},{"i":137,"t":14.1,"r":0.1},{"i":138,"t":13,"r":0.1},{"i":139,"t":14.1,"r":0.1},{"i":140,"t":14.9,"r":0.4},{"i":141,"t":14.9,"r":0.4},{"i":142,"t":14.1,"r":0.1},{"i":143,"t":14.9,"r":0.4},{"i":144,"t":13.9,"r":0.1},{"i":145,"t":14.9,"r":0.4},{"i":146,"t":13,"r":0.1},{"i":147,"t":13,"r":0.1},{"i":148,"t":14.1,"r":0.1},{"i":149,"t":14.1,"r":0.1},{"i":150,"t":14.1,"r":0.1},{"i":151,"t":13,"r":0.1},{"i":152,"t":13,"r":0.1},{"i":153,"t":17.9,"r":5.7},{"i":154,"t":19.6,"r":8.8},{"i":155,"t":20,"r":9.9},{"i":156,"t":19.2,"r":8.4},{"i":157,"t":20,"r":9.7},{"i":158,"t":18.9,"r":8},{"i":159,"t":19.6,"r":9.3},{"i":160,"t":18.7,"r":7.6},{"i":161,"t":19.4,"r":9},{"i":162,"t":13.9,"r":0.1},{"i":163,"t":13,"r":0.1},{"i":164,"t":12.2,"r":0.1},{"i":165,"t":13.1,"r":0.1},{"i":166,"t":13.1,"r":0.1},{"i":167,"t":13.1,"r":0.1},{"i":168,"t":13.1,"r":0.1},{"i":169,"t":13.9,"r":0.1},{"i":170,"t":13.9,"r":0.1},{"i":171,"t":13.9,"r":0.1}],
"stackline":[{"i":-0.8,"v":0.2},{"i":6.7,"v":0.2},{"i":9,"v":2.3},{"i":13,"v":4.3},{"i":16,"v":2.6},{"i":20,"v":1.2},{"i":25,"v":1},{"i":27,"v":1},{"i":30,"v":2},{"i":33,"v":2.2},{"i":35,"v":5.5},{"i":38,"v":7.9},{"i":41,"v":9.1},{"i":45,"v":9.6},{"i":47,"v":10.4},{"i":52,"v":10.9},{"i":57,"v":10.3},{"i":59,"v":9.1},{"i":60,"v":7.4},{"i":63,"v":4.5},{"i":65,"v":4.2},{"i":67,"v":4.8},{"i":70,"v":5.3},{"i":73,"v":2.9},{"i":78,"v":1.1},{"i":84,"v":0.4},{"i":90,"v":0.25},{"i":110,"v":0.1},{"i":140,"v":0.15},{"i":152,"v":0.3},{"i":156,"v":5.8},{"i":161,"v":7.2},{"i":166,"v":2.6},{"i":171,"v":1}]
},
"layer":[
{"data":{"values":[{"i":20},{"i":41},{"i":58},{"i":78},{"i":100.2},{"i":119.2},{"i":138.2},{"i":161.2},{"i":180.2}]},
 "mark":{"type":"rule","color":"#f0f1f4","strokeWidth":1},
 "encoding":{"x":{"field":"i","type":"quantitative","scale":{"domain":[-0.8,181.7],"range":[56,971]}},"y":{"datum":0,"type":"quantitative","scale":{"domain":[0,1],"range":[40,1015]}},"y2":{"datum":1}}},
{"data":{"values":[{"v":0.78},{"v":0.79},{"v":0.8},{"v":0.81},{"v":0.82},{"v":0.83},{"v":0.84},{"v":0.85},{"v":0.86},{"v":0.87},{"v":0.88},{"v":0.89}]},
 "mark":{"type":"rule","color":"#f0f1f4","strokeWidth":1},
 "encoding":{"x":{"datum":-0.8,"type":"quantitative","scale":{"domain":[-0.8,181.7],"range":[56,971]}},"x2":{"datum":181.7},
  "y":{"field":"v","type":"quantitative","scale":{"domain":[0.7747,0.9045],"range":[578,40]},"axis":{"disable":false,"orient":"right","offset":-105,"title":null,"domain":false,"ticks":false,"grid":false,"labelPadding":3,"labelFontSize":13,"labelColor":"#131722","labelFont":"Noto Sans","labelOverlap":false,"format":".3f","values":[0.78,0.79,0.8,0.81,0.82,0.83,0.84,0.85,0.86,0.87,0.88,0.89],"labelFontWeight":{"condition":{"test":"round(datum.value*100)%2==0","value":"bold"},"value":"normal"}}}}},
{"data":{"values":[{"v":12}]},"mark":{"type":"rule","color":"#f0f1f4"},
 "encoding":{"x":{"datum":-0.8,"type":"quantitative","scale":{"domain":[-0.8,181.7],"range":[56,971]}},"x2":{"datum":181.7},
  "y":{"field":"v","type":"quantitative","scale":{"domain":[11.04,14.76],"range":[671,578]},"axis":{"disable":false,"orient":"right","offset":-105,"title":null,"domain":false,"ticks":false,"grid":false,"labelPadding":3,"labelFontSize":13,"labelColor":"#131722","labelFont":"Noto Sans","values":[12],"labelExpr":"datum.value+' M'"}}}},
{"data":{"values":[{"v":0},{"v":10}]},"mark":{"type":"rule","color":"#f0f1f4"},
 "encoding":{"x":{"datum":-0.8,"type":"quantitative","scale":{"domain":[-0.8,181.7],"range":[56,971]}},"x2":{"datum":181.7},
  "y":{"field":"v","type":"quantitative","scale":{"domain":[-6.5,23.2],"range":[772,671]},"axis":{"disable":false,"orient":"right","offset":-105,"title":null,"domain":false,"ticks":false,"grid":false,"labelPadding":3,"labelFontSize":13,"labelColor":"#131722","labelFont":"Noto Sans","values":[0,10],"labelExpr":"datum.value==0?'0':datum.value+' M'"}}}},
{"data":{"values":[{"m":25},{"m":-25}]},"mark":{"type":"rule","color":"#f0f1f4"},
 "encoding":{"x":{"datum":-0.8,"type":"quantitative","scale":{"domain":[-0.8,181.7],"range":[56,971]}},"x2":{"datum":181.7},
  "y":{"field":"m","type":"quantitative","scale":{"domain":[-45.5,40.5],"range":[883,772]},"axis":{"disable":false,"orient":"right","offset":-105,"title":null,"domain":false,"ticks":false,"grid":false,"labelPadding":3,"labelFontSize":13,"labelColor":"#131722","labelFont":"Noto Sans","values":[25,0,-25],"labelExpr":"datum.value==0?'0.000':(datum.value<0?'−25.00':'25.00')"}}}},
{"data":{"values":[{"v":20},{"v":10},{"v":0}]},"mark":{"type":"rule","color":"#f0f1f4"},
 "encoding":{"x":{"datum":-0.8,"type":"quantitative","scale":{"domain":[-0.8,181.7],"range":[56,971]}},"x2":{"datum":181.7},
  "y":{"field":"v","type":"quantitative","scale":{"domain":[-2.5,23],"range":[1015,883]},"axis":{"disable":false,"orient":"right","offset":-105,"title":null,"domain":false,"ticks":false,"grid":false,"labelPadding":3,"labelFontSize":13,"labelColor":"#131722","labelFont":"Noto Sans","values":[20,10,0],"labelExpr":"datum.value==0?'0.000':format(datum.value,'.2f')"}}}},
{"data":{"name":"vol"},
 "mark":{"type":"rule","strokeWidth":4},
 "encoding":{"x":{"field":"i","type":"quantitative","scale":{"domain":[-0.8,181.7],"range":[56,971]}},"y":{"field":"v","type":"quantitative","scale":{"domain":[0,538],"range":[578,40]}},"y2":{"datum":0},
  "color":{"condition":{"test":"datum.w==1","value":"#f9a8a8"},"value":"#92d2c9"}}},
{"encoding":{"x":{"field":"i","type":"quantitative","scale":{"domain":[-0.8,181.7],"range":[56,971]}},"y":{"field":"p","type":"quantitative","scale":{"domain":[0.7747,0.9045],"range":[578,40]}}},
 "layer":[
 {"data":{"name":"pinkfill"},"mark":{"type":"area","color":"#ffe3e3","opacity":0.7},"encoding":{"y":{"field":"a","type":"quantitative"},"y2":{"field":"b"},"detail":{"field":"s"}}},
 {"data":{"name":"greenfill"},"mark":{"type":"area","color":"#e3f2e6","opacity":0.75},"encoding":{"y":{"field":"a","type":"quantitative"},"y2":{"field":"b"},"detail":{"field":"s"}}},
 {"data":{"name":"cloud"},"mark":{"type":"area","color":"#bdbdbd","opacity":0.42},"encoding":{"y":{"field":"a","type":"quantitative"},"y2":{"field":"b"}}},
 {"data":{"name":"tealband"},"mark":{"type":"area","color":"#3f9085","opacity":0.52},"encoding":{"y":{"field":"a","type":"quantitative"},"y2":{"field":"b"},"detail":{"field":"s"}}},
 {"data":{"name":"redband"},"mark":{"type":"area","color":"#c9403c","opacity":0.42},"encoding":{"y":{"field":"a","type":"quantitative"},"y2":{"field":"b"},"detail":{"field":"s"}}},
 {"data":{"values":[{"a":0.8538,"b":0.8461,"i":71,"j":78.8},{"a":0.8389,"b":0.8314,"i":5,"j":13.4},{"a":0.8292,"b":0.8212,"i":150,"j":158}]},
  "mark":{"type":"rect","cornerRadius":3,"opacity":0.88},
  "encoding":{"x2":{"field":"j"},"y":{"field":"a","type":"quantitative"},"y2":{"field":"b"},"color":{"condition":{"test":"datum.i==71","value":"#f44a4a"},"value":"#43a047"}}},
 {"data":{"values":[{"i":9.2,"p":0.8396},{"i":154,"p":0.8303}]},"mark":{"type":"point","shape":"triangle-up","filled":true,"size":110,"color":"#43a047","opacity":0.95},"encoding":{}},
 {"data":{"name":"candles"},"mark":{"type":"rule","strokeWidth":1},"encoding":{"y":{"field":"l","type":"quantitative"},"y2":{"field":"h"},"color":{"condition":{"test":"datum.d=='d'","value":"#f55252"},"value":"#26a69a"}}},
 {"data":{"name":"candles"},"transform":[{"filter":"datum.d!='n'"}],"mark":{"type":"rule","strokeWidth":3.6},"encoding":{"y":{"field":"o","type":"quantitative"},"y2":{"field":"c"},"color":{"condition":{"test":"datum.d=='d'","value":"#f55252"},"value":"#0ecb81"}}},
 {"data":{"name":"candles"},"transform":[{"filter":"datum.d=='n'"}],"mark":{"type":"point","filled":true,"size":7,"color":"#3fa2c8","opacity":1},"encoding":{"y":{"field":"o","type":"quantitative"}}},
 {"data":{"name":"cyan"},"mark":{"type":"line","color":"#26c6da","strokeWidth":1},"encoding":{}},
 {"data":{"name":"redtrail"},"mark":{"type":"line","color":"#ff5252","strokeWidth":2},"encoding":{"detail":{"field":"s"}}},
 {"data":{"name":"greentrail"},"mark":{"type":"line","color":"#4caf50","strokeWidth":2},"encoding":{"detail":{"field":"s"}}},
 {"data":{"values":[{"i":-0.8,"j":181.7,"p":0.825}]},"mark":{"type":"rule","color":"#00e676","strokeWidth":4,"strokeDash":[4,12]},"encoding":{"x2":{"field":"j"}}},
 {"data":{"name":"green"},"mark":{"type":"line","color":"#388e3c","strokeWidth":3.2,"interpolate":"monotone"},"encoding":{}},
 {"data":{"name":"purple"},"mark":{"type":"line","color":"#673ab7","strokeWidth":3.2,"interpolate":"monotone"},"encoding":{}},
 {"data":{"name":"orange"},"mark":{"type":"line","color":"#ff9800","strokeWidth":3.2,"interpolate":"monotone"},"encoding":{}},
 {"data":{"name":"blue"},"mark":{"type":"line","color":"#2196f3","strokeWidth":3.2,"interpolate":"monotone"},"encoding":{}},
 {"data":{"values":[{"i":5,"p":0.7976},{"i":139.8,"p":0.803}]},"mark":{"type":"point","filled":true,"size":45,"color":"#4caf50","opacity":1},"encoding":{}},
 {"data":{"values":[{"i":60,"p":0.8917},{"i":162,"p":0.8533}]},"mark":{"type":"point","filled":true,"size":45,"color":"#ff5252","opacity":1},"encoding":{}},
 {"data":{"values":[{"a":0.8963,"b":0.8915,"i":57.4,"j":62.6},{"a":0.8586,"b":0.8541,"i":159.4,"j":164.6}]},"mark":{"type":"rect","cornerRadius":3,"color":"#000000"},"encoding":{"x2":{"field":"j"},"y":{"field":"a","type":"quantitative"},"y2":{"field":"b"}}},
 {"data":{"values":[{"a":0.7971,"b":0.7923,"i":2.4,"j":8},{"a":0.8022,"b":0.7973,"i":137.2,"j":142.8}]},"mark":{"type":"rect","cornerRadius":3,"color":"#673ab7"},"encoding":{"x2":{"field":"j"},"y":{"field":"a","type":"quantitative"},"y2":{"field":"b"}}},
 {"data":{"values":[{"i":60,"p":0.8939,"t":"Sell"},{"i":162,"p":0.8565,"t":"Sell"},{"i":5.2,"p":0.7947,"t":"Buy"},{"i":140,"p":0.7997,"t":"Buy"}]},"mark":{"type":"text","color":"#ffffff","fontSize":12},"encoding":{"text":{"field":"t"}}},
 {"data":{"values":[{"i":75,"p":0.8499,"t":"Sell"},{"i":9.2,"p":0.8355,"t":"Buy"},{"i":154,"p":0.825,"t":"Buy"}]},"mark":{"type":"text","color":"#ffffff","fontSize":13,"opacity":0.75},"encoding":{"text":{"field":"t"}}}
 ]},
{"encoding":{"x":{"field":"i","type":"quantitative","scale":{"domain":[-0.8,181.7],"range":[56,971]}},"y":{"field":"v","type":"quantitative","scale":{"domain":[0,538],"range":[578,40]}}},
 "layer":[
 {"data":{"name":"volline"},"mark":{"type":"line","color":"#000000","strokeWidth":3},"encoding":{}},
 {"data":{"values":[{"i":14,"v":13,"t":"D"},{"i":161.8,"v":13,"t":"D"},{"i":170.8,"v":13,"t":"⚡"}]},"mark":{"type":"point","shape":"circle","filled":true,"size":310,"fill":"#ffffff","strokeWidth":1.8},"encoding":{"stroke":{"condition":{"test":"datum.t=='D'","value":"#2962ff"},"value":"#9c27b0"}}},
 {"data":{"values":[{"i":33,"v":13,"t":"E"},{"i":103,"v":13,"t":"E"},{"i":152,"v":13,"t":"E"}]},"mark":{"type":"point","shape":"square","filled":true,"size":300,"fill":"#ffffff","stroke":"#50535e","strokeWidth":1.6},"encoding":{}},
 {"data":{"values":[{"i":14,"v":13,"t":"D"},{"i":161.8,"v":13,"t":"D"},{"i":170.8,"v":13,"t":"⚡"},{"i":33,"v":13,"t":"E"},{"i":103,"v":13,"t":"E"},{"i":152,"v":13,"t":"E"}]},"mark":{"type":"text","fontSize":12,"fontWeight":"bold"},"encoding":{"text":{"field":"t"},"color":{"condition":[{"test":"datum.t=='D'","value":"#2962ff"},{"test":"datum.t=='E'","value":"#50535e"}],"value":"#9c27b0"}}}
 ]},
{"encoding":{"x":{"field":"i","type":"quantitative","scale":{"domain":[-0.8,181.7],"range":[56,971]}},"y":{"field":"v","type":"quantitative","scale":{"domain":[11.04,14.76],"range":[671,578]}}},
 "layer":[
 {"data":{"values":[{"i":-0.8,"v":11.92},{"i":18.4,"v":11.92},{"i":18.4,"v":12.92},{"i":76.4,"v":12.92},{"i":76.4,"v":12.04},{"i":136.6,"v":12.04},{"i":136.6,"v":13.88},{"i":170.8,"v":13.88}]},"mark":{"type":"line","color":"#26c6da","strokeWidth":1.8},"encoding":{"order":{"field":"n"}}},
 {"data":{"values":[{"i":18.4,"v":12.92},{"i":76.4,"v":12.04},{"i":136.6,"v":13.88}]},"mark":{"type":"point","shape":"diamond","filled":true,"size":900,"color":"#26c6da","opacity":0.13},"encoding":{}},
 {"data":{"values":[{"i":18.4,"v":12.92},{"i":76.4,"v":12.04},{"i":136.6,"v":13.88}]},"mark":{"type":"point","shape":"diamond","filled":true,"size":150,"color":"#26c6da","opacity":1},"encoding":{}}
 ]},
{"data":{"values":[{"i":-0.8,"v":10.9},{"i":17.8,"v":10.9},{"i":18.6,"v":16.5},{"i":75.8,"v":16.5},{"i":77.2,"v":14.7},{"i":135.7,"v":14.7},{"i":137.3,"v":15.9},{"i":170.8,"v":15.9}]},"mark":{"type":"area","color":"#2962ff"},
 "encoding":{"x":{"field":"i","type":"quantitative","scale":{"domain":[-0.8,181.7],"range":[56,971]}},"y":{"field":"v","type":"quantitative","scale":{"domain":[-6.5,23.2],"range":[772,671]}},"y2":{"datum":0}}},
{"encoding":{"x":{"field":"i","type":"quantitative","scale":{"domain":[-0.8,181.7],"range":[56,971]}},"y":{"field":"m","type":"quantitative","scale":{"domain":[-45.5,40.5],"range":[883,772]}}},
 "layer":[
 {"data":{"values":[{"i":-0.8,"j":181.7,"m":0}]},"mark":{"type":"rule","color":"#e4e4ea","strokeDash":[4,4]},"encoding":{"x2":{"field":"j"}}},
 {"data":{"name":"hist"},"mark":{"type":"rule","strokeWidth":4},"encoding":{"y2":{"datum":0},"color":{"condition":[{"test":"datum.c=='b'","value":"#00bfff"},{"test":"datum.c=='p'","value":"#ff0066"}],"value":"#d6d6dc"}}}
 ]},
{"encoding":{"x":{"field":"i","type":"quantitative","scale":{"domain":[-0.8,181.7],"range":[56,971]}},"y":{"field":"v","type":"quantitative","scale":{"domain":[-2.5,23],"range":[1015,883]}}},
 "layer":[
 {"data":{"name":"stack"},"mark":{"type":"rule","strokeWidth":4,"color":"#149a0c"},"encoding":{"y":{"field":"t","type":"quantitative"},"y2":{"datum":20}}},
 {"data":{"name":"stack"},"mark":{"type":"rule","strokeWidth":4,"color":"#ffff00"},"encoding":{"y":{"field":"r","type":"quantitative"},"y2":{"field":"t"}}},
 {"data":{"name":"stack"},"mark":{"type":"rule","strokeWidth":4,"color":"#ef5350"},"encoding":{"y":{"field":"r","type":"quantitative"},"y2":{"datum":0}}},
 {"data":{"values":[{"i":-0.8,"j":181.7,"v":15},{"i":-0.8,"j":181.7,"v":10},{"i":-0.8,"j":181.7,"v":5}]},"mark":{"type":"rule","color":"#8e2a9e","strokeWidth":1},"encoding":{"x2":{"field":"j"}}},
 {"data":{"name":"stackline"},"mark":{"type":"line","color":"#2f8fe6","strokeWidth":2.2,"interpolate":"monotone"},"encoding":{}}
 ]},
{"data":{"values":[{"n":0},{"n":1},{"n":2},{"n":3},{"n":4}]},"mark":{"type":"rule","color":"#e0e3eb","strokeWidth":1.5},
 "encoding":{"x":{"datum":0,"type":"quantitative","scale":{"domain":[0,1],"range":[56,1032]}},"x2":{"datum":1},"y":{"field":"n","type":"quantitative","scale":{"domain":[0,1,2,3,4],"range":[578,671,772,883,1015]}}}},
{"data":{"values":[{"n":0}]},"mark":{"type":"rule","color":"#e0e3eb","strokeWidth":1.5},
 "encoding":{"x":{"field":"n","type":"quantitative","scale":{"domain":[0,1],"range":[970,971]}},"y":{"datum":0,"type":"quantitative","scale":{"domain":[0,1],"range":[40,1042]}},"y2":{"datum":1}}},
{"data":{"values":[{"n":0},{"n":1}]},"mark":{"type":"rule","color":"#e9e9e9","strokeWidth":4},
 "encoding":{"x":{"datum":0,"type":"quantitative","scale":{"domain":[0,1],"range":[0,1080]}},"x2":{"datum":1},"y":{"field":"n","type":"quantitative","scale":{"domain":[0,1],"range":[40,1043.5]}}}},
{"data":{"values":[{"n":0},{"n":1}]},"mark":{"type":"rule","color":"#e9e9e9","strokeWidth":4},
 "encoding":{"x":{"field":"n","type":"quantitative","scale":{"domain":[0,1],"range":[54,1035]}},"y":{"datum":0,"type":"quantitative","scale":{"domain":[0,1],"range":[40,1080]}},"y2":{"datum":1}}},
{"data":{"values":[
 {"n":0,"k":"sbox","c":"red"},{"n":1,"k":"sbox","c":"blue"},{"n":2,"k":"pill","c":"pale"},{"n":3,"k":"hl","c":"pale"},{"n":4,"k":"trade","c":"line"},{"n":5,"k":"publish","c":"dark"},{"n":6,"k":"myr","c":"line"},{"n":7,"k":"myr","c":"line"},{"n":8,"k":"myr","c":"line"},{"n":9,"k":"dd12","c":"line"},{"n":10,"k":"dd","c":"line"},{"n":11,"k":"dd","c":"line"},{"n":12,"k":"dd","c":"line"},{"n":13,"k":"float","c":"line"},{"n":14,"k":"price","c":"price"},{"n":15,"k":"c13","c":"black"},{"n":16,"k":"c10","c":"badge"},{"n":17,"k":"c8","c":"badge"},{"n":18,"k":"pill30","c":"badge"},{"n":19,"k":"c10","c":"badge"},{"n":20,"k":"c9","c":"paleT"},{"n":21,"k":"c5","c":"deep"},{"n":22,"k":"c17","c":"black"},{"n":23,"k":"nine","c":"white"},{"n":24,"k":"c9","c":"paleP"},{"n":25,"k":"c9","c":"paleP"},{"n":26,"k":"c9","c":"paleP"},{"n":27,"k":"c9","c":"paleP"},{"n":28,"k":"sync","c":"purp"},{"n":29,"k":"sync","c":"purp"},{"n":30,"k":"sync","c":"purp"},{"n":31,"k":"sync","c":"purp"},
 {"n":32,"k":"line","c":"ink"},{"n":33,"k":"fib","c":"ink"},{"n":34,"k":"pattern","c":"ink"},{"n":35,"k":"long","c":"ink"},{"n":36,"k":"brush","c":"ink"},{"n":37,"k":"T","c":"ink"},{"n":38,"k":"smile","c":"ink"},{"n":39,"k":"ruler","c":"ink"},{"n":40,"k":"zoom","c":"ink"},{"n":41,"k":"magnet","c":"ink"},{"n":42,"k":"pencil","c":"ink"},{"n":43,"k":"lock","c":"ink"},{"n":44,"k":"eye","c":"ink"},{"n":45,"k":"link","c":"ink"},{"n":46,"k":"trash","c":"ink"},
 {"n":47,"k":"note","c":"ink"},{"n":48,"k":"alarm","c":"ink"},{"n":49,"k":"layers","c":"ink"},{"n":50,"k":"chat","c":"ink"},{"n":51,"k":"target","c":"ink"},{"n":52,"k":"tri","c":"ink"},{"n":53,"k":"cal","c":"ink"},{"n":54,"k":"feed","c":"ink"},{"n":55,"k":"bell","c":"ink"},{"n":56,"k":"help","c":"ink"},
 {"n":57,"k":"gem","c":"ink"},{"n":58,"k":"plus","c":"ink"},{"n":59,"k":"caret","c":"ink"},{"n":60,"k":"candle","c":"ink"},{"n":61,"k":"chart","c":"ink"},{"n":62,"k":"caret","c":"ink"},{"n":63,"k":"grid4","c":"ink"},{"n":64,"k":"alarmp","c":"ink"},{"n":65,"k":"rewind","c":"ink"},{"n":66,"k":"undo","c":"faint"},{"n":67,"k":"redo","c":"faint"},{"n":68,"k":"sq","c":"ink"},{"n":69,"k":"gear","c":"ink"},{"n":70,"k":"cal","c":"ink"},{"n":71,"k":"caret","c":"ink"},{"n":72,"k":"caret","c":"ink"},{"n":73,"k":"caret","c":"ink"},{"n":74,"k":"caret","c":"ink"},{"n":75,"k":"caret","c":"ink"},{"n":76,"k":"caret","c":"ink"},{"n":77,"k":"caret","c":"ink"},{"n":78,"k":"wave","c":"ink"},{"n":79,"k":"wave","c":"ink"},{"n":80,"k":"tvbg","c":"white"},{"n":81,"k":"tv","c":"black"}]},
 "mark":{"type":"point","filled":true,"size":4,"strokeWidth":1,"opacity":1},
 "encoding":{
  "x":{"field":"n","type":"quantitative","scale":{"domain":[0,1,2,3,4,5,6,7,8,9,10,11,12,13,14,15,16,17,18,19,20,21,22,23,24,25,26,27,28,29,30,31,32,33,34,35,36,37,38,39,40,41,42,43,44,45,46,47,48,49,50,51,52,53,54,55,56,57,58,59,60,61,62,63,64,65,66,67,68,69,70,71,72,73,74,75,76,77,78,79,80,81],
   "range":[91,186,120,478,968,1041,1000,1000,1000,84,79,79,79,590,963,25,39,1068,1061,1065,245,245,1058,1058,128,119,119,119,128,119,119,119,26,26,26,26,26,26,26,26,26,26,26,26,26,26,26,1058,1058,1058,1058,1058,1058,1058,1058,1058,1058,170,206,525,568,613,644,675,722,760,806,844,883,1000,371,1019,1019,1019,72,79,79,79,587,625,82,82]}},
  "y":{"field":"n","type":"quantitative","scale":{"domain":[0,1,2,3,4,5,6,7,8,9,10,11,12,13,14,15,16,17,18,19,20,21,22,23,24,25,26,27,28,29,30,31,32,33,34,35,36,37,38,39,40,41,42,43,44,45,46,47,48,49,50,51,52,53,54,55,56,57,58,59,60,61,62,63,64,65,66,67,68,69,70,71,72,73,74,75,76,77,78,79,80,81],
   "range":[92,92,19,19,19,19,60,596,689,125,596,689,790,118,368.5,19,9,192,895,942,58,58,998,998,125,596,689,790,125,596,689,790,104,143,181,219,257,295,333,383,421,473,511,549,587,625,675,66,111,157,204,772,816,861,908,953,1055,19,19,19,19,19,19,19,19,19,19,19,19,1027,1061,60,596,689,125,596,689,790,120,120,991,991]}},
  "shape":{"field":"k","type":"nominal","scale":{
   "domain":["sbox","pill","hl","trade","publish","myr","dd12","dd","float","price","c13","c10","c8","pill30","c9","c5","c17","nine","sync","line","fib","pattern","long","brush","T","smile","ruler","zoom","magnet","pencil","lock","eye","link","trash","note","alarm","layers","chat","target","tri","cal","feed","bell","help","gem","plus","caret","candle","chart","grid4","alarmp","rewind","undo","redo","sq","gear","wave","tvbg","tv"],
   "range":[
   "M-22 -15H22Q26 -15 26 -11V11Q26 15 22 15H-22Q-26 15 -26 11V-11Q-26 -15 -22 -15Z",
   "M-51 -14H51A14 14 0 0 1 51 14H-51A14 14 0 0 1 -51 -14Z",
   "M-5 -17H5Q9 -17 9 -13V13Q9 17 5 17H-5Q-9 17 -9 13V-13Q-9 -17 -5 -17Z",
   "M-15 -14H15A14 14 0 0 1 15 14H-15A14 14 0 0 1 -15 -14Z",
   "M-20 -14H20A14 14 0 0 1 20 14H-20A14 14 0 0 1 -20 -14Z",
   "M-24 -12H24Q27 -12 27 -9V9Q27 12 24 12H-24Q-27 12 -27 9V-9Q-27 -12 -24 -12Z",
   "M-16 -10H16Q19 -10 19 -7V7Q19 10 16 10H-16Q-19 10 -19 7V-7Q-19 -10 -16 -10Z",
   "M-11 -10H11Q14 -10 14 -7V7Q14 10 11 10H-11Q-14 10 -14 7V-7Q-14 -10 -11 -10Z",
   "M-44 -19H44Q50 -19 50 -13V13Q50 19 44 19H-44Q-50 19 -50 13V-13Q-50 -19 -44 -19Z",
   "M-49 -8.5H49Q51 -8.5 51 -6.5V6.5Q51 8.5 49 8.5H-49Q-51 8.5 -51 6.5V-6.5Q-51 -8.5 -49 -8.5Z",
   "M-13 0A13 13 0 1 1 13 0A13 13 0 1 1 -13 0Z",
   "M-10 0A10 10 0 1 1 10 0A10 10 0 1 1 -10 0Z",
   "M-8 0A8 8 0 1 1 8 0A8 8 0 1 1 -8 0Z",
   "M-9 -8H9A8 8 0 0 1 9 8H-9A8 8 0 0 1 -9 -8Z",
   "M-9 0A9 9 0 1 1 9 0A9 9 0 1 1 -9 0Z",
   "M-5 0A5 5 0 1 1 5 0A5 5 0 1 1 -5 0Z",
   "M-17 0A17 17 0 1 1 17 0A17 17 0 1 1 -17 0Z",
   "M-8 -8H-4V-4H-8ZM-2 -8H2V-4H-2ZM4 -8H8V-4H4ZM-8 -2H-4V2H-8ZM-2 -2H2V2H-2ZM4 -2H8V2H4ZM-8 4H-4V8H-8ZM-2 4H2V8H-2ZM4 4H8V8H4Z",
   "M-6 -2A6 6 0 0 1 6 -1M6 2A6 6 0 0 1 -6 1M6 -5V-1H2M-6 5V1H-2",
   "M-8 8L8 -8M-11 8A3 3 0 1 1 -5 8A3 3 0 1 1 -11 8ZM5 -8A3 3 0 1 1 11 -8A3 3 0 1 1 5 -8Z",
   "M-12 -9H12M-12 -3H12M-12 3H12M-12 9H12",
   "M-10 10L-6 -8L2 4L9 -8L10 10L-10 10M-6 -8L9 -8M-10 10L2 4L10 10",
   "M-11 -8H11M-11 0H11M-11 8H11M-3 -4V4",
   "M-11 9Q-6 -4 2 -3L6 2Q4 9 -11 9ZM4 -4Q7 -9 11 -8",
   "M-8 -9H8M0 -9V10M-3 10H3",
   "M-10 0A10 10 0 1 1 10 0A10 10 0 1 1 -10 0ZM-5 3Q0 8 5 3M-4 -3H-3M3 -3H4",
   "M-11 6L6 -11L11 -6L-6 11ZM-6 1L-3 4M-2 -3L1 0M2 -7L5 -4",
   "M-9 -1A8 8 0 1 1 7 -1A8 8 0 1 1 -9 -1ZM5 5L11 11M-5 -1H3M-1 -5V3",
   "M-9 -9V1A9 9 0 0 0 9 1V-9H4V1A4 4 0 0 1 -4 1V-9Z",
   "M-9 9L-7 2L3 -8L8 -3L-2 7ZM4 4H11V11H4Z",
   "M-7 -1H7V10H-7ZM-4 -1V-6A4 4 0 0 1 4 -6",
   "M-11 0Q0 -11 11 0Q0 11 -11 0ZM-3 0A3 3 0 1 1 3 0A3 3 0 1 1 -3 0Z",
   "M-9 9L-4 4M4 -4L9 -9M-2 -6L3 -11L11 -3L6 2M2 6L-3 11L-11 3L-6 -2",
   "M-10 -7H10M-4 -7V-10H4V-7M-7 -7V10H7V-7",
   "M-9 -11H9V11L0 7L-9 11ZM-5 -6H5M-5 -2H5M-5 2H5",
   "M-9 0A9 9 0 1 1 9 0A9 9 0 1 1 -9 0ZM0 -5V1H4M-11 -8L-7 -11M11 -8L7 -11",
   "M0 -10L11 -4L0 2L-11 -4ZM-11 0L0 6L11 0M-11 4L0 10L11 4",
   "M-11 -9H11V7H-1L-6 11V7H-11Z",
   "M-13 0A13 13 0 1 1 13 0A13 13 0 1 1 -13 0ZM-7 0A7 7 0 1 1 7 0A7 7 0 1 1 -7 0ZM0 0L6 -6",
   "M0 -10L11 8H-11ZM-5 -1L0 2L5 -1",
   "M-10 -8H10V10H-10ZM-10 -3H10M-5 -11V-6M5 -11V-6",
   "M-9 -8A17 17 0 0 1 9 10M-9 -1A10 10 0 0 1 2 10M-9 6A4 4 0 0 1 -5 10",
   "M-8 6V-2A8 8 0 0 1 8 -2V6L10 8H-10ZM-2 10H2",
   "M-14 0A14 14 0 1 1 14 0A14 14 0 1 1 -14 0ZM-4 -4A4 4 0 1 1 1 0Q0 1 0 3M0 6V7",
   "M-9 -3L-5 -7H5L9 -3L0 7ZM-3 -1H3",
   "M-10 0A10 10 0 1 1 10 0A10 10 0 1 1 -10 0ZM-5 0H5M0 -5V5",
   "M-4 -2L0 2L4 -2",
   "M-5 -9V9M-8 -5H-2V5H-8ZM5 -7V7M2 -3H8V2H2Z",
   "M-11 10H11M-9 10V3H-4V10M-4 10V-1H1V10M1 10V-4H7V10M-10 -2L-3 -8L2 -5L9 -11",
   "M-9 -9H-2V-2H-9ZM2 -9H9V-2H2ZM-9 2H-2V9H-9ZM2 2H9V9H2Z",
   "M-9 0A9 9 0 1 1 9 0A9 9 0 1 1 -9 0ZM0 -5V1H4M-11 -8L-7 -11M11 -8L7 -11M8 6V13M4.5 9.5H11.5",
   "M-1 -7L-9 0L-1 7ZM9 -7L1 0L9 7Z",
   "M-3 -6L-8 -1L-3 4M-8 -1H7V6",
   "M3 -6L8 -1L3 4M8 -1H-7V6",
   "M-9 -9H9V9H-9Z",
   "M-7 0L-3.5 -6H3.5L7 0L3.5 6H-3.5ZM-2 0A2 2 0 1 1 2 0A2 2 0 1 1 -2 0Z",
   "M-14 5L-8 -2L-2 5L4 -2L10 -5",
   "M-18 -10H18V10H-18Z",
   "M-15 -8H2V8H-6V-1H-15ZM8 -8H16L8 8H0Z"]}},
  "fill":{"field":"c","type":"nominal","scale":{"domain":["ink","faint","line","pale","dark","red","blue","price","black","badge","paleT","deep","white","paleP","purp"],"range":["transparent","transparent","#ffffff","#ececec","#2e2e2e","#ffffff","#ffffff","#00e676","#000000","#f23645","#d5ece8","#00695c","#ffffff","#ede7f6","transparent"]}},
  "stroke":{"field":"c","type":"nominal","scale":{"domain":["ink","faint","line","pale","dark","red","blue","price","black","badge","paleT","deep","white","paleP","purp"],"range":["#131722","#b2b5be","#e5e5e5","#ececec","#2e2e2e","#f23645","#2962ff","#00e676","#000000","#ffffff","#d5ece8","#00695c","#ffffff","#ede7f6","#7c4dff"]}}
 }},
{"data":{"values":[{"n":0,"t":"1m"},{"n":1,"t":"3m"},{"n":2,"t":"5m"},{"n":3,"t":"15m"},{"n":4,"t":"30m"},{"n":5,"t":"1h"},{"n":6,"t":"4h"},{"n":7,"t":"D"},{"n":8,"t":"W"},{"n":9,"t":"INtr"},{"n":10,"t":"Trade"},{"n":11,"t":"1D"},{"n":12,"t":"5D"},{"n":13,"t":"1M"},{"n":14,"t":"3M"},{"n":15,"t":"6M"},{"n":16,"t":"YTD"},{"n":17,"t":"1Y"},{"n":18,"t":"5Y"},{"n":19,"t":"All"},{"n":20,"t":"12:55:09 UTC+8"},{"n":21,"t":"ADJ"},{"n":22,"t":"Feb"},{"n":23,"t":"Mar"},{"n":24,"t":"Apr"},{"n":25,"t":"May"},{"n":26,"t":"Jun"},{"n":27,"t":"Jul"},{"n":28,"t":"Aug"},{"n":29,"t":"Sep"},{"n":30,"t":"12"},{"n":31,"t":"MYR"},{"n":32,"t":"MYR"},{"n":33,"t":"MYR"},{"n":34,"t":"X"},{"n":35,"t":"O"},{"n":36,"t":"H"},{"n":37,"t":"L"},{"n":38,"t":"C"},{"n":39,"t":"0.005"},{"n":40,"t":"UOAREIT"},{"n":41,"t":"0.825"}]},
 "mark":{"type":"text","color":"#131722","fontSize":13},
 "encoding":{"text":{"field":"t"},
  "x":{"field":"n","type":"quantitative","scale":{"domain":[0,1,2,3,4,5,6,7,8,9,10,11,12,13,14,15,16,17,18,19,20,21,22,23,24,25,26,27,28,29,30,31,32,33,34,35,36,37,38,39,40,41],"range":[251,283,315,351,391,425,453,478,502,922,968,79,109,140,172,204,239,272,300,328,925,1008,265,350,449,561,656,751,866,960,92,989,989,989,224,268,316,363,408,138,941,992]}},
  "y":{"field":"n","type":"quantitative","scale":{"domain":[0,1,2,3,4,5,6,7,8,9,10,11,12,13,14,15,16,17,18,19,20,21,22,23,24,25,26,27,28,29,30,31,32,33,34,35,36,37,38,39,40,41],"range":[19,19,19,19,19,19,19,19,19,19,19,1061,1061,1061,1061,1061,1061,1061,1061,1061,1061,1061,1027,1027,1027,1027,1027,1027,1027,1027,125,60,596,689,58,58,58,58,58,90,368.5,368.5]}}}},
{"data":{"values":[{"n":0,"t":"UOAREIT"},{"n":1,"t":"2026"}]},
 "mark":{"type":"text","color":"#131722","fontSize":13.5,"fontWeight":"bold"},
 "encoding":{"text":{"field":"t"},"x":{"field":"n","type":"quantitative","scale":{"domain":[0,1],"range":[98,158]}},"y":{"field":"n","type":"quantitative","scale":{"domain":[0,1],"range":[19,1027]}}}},
{"data":{"values":[{"n":0,"t":"0.825"},{"n":1,"t":"0.825"},{"n":2,"t":"0.825"},{"n":3,"t":"0.825"},{"n":4,"t":"0.000 (0.00%)"}]},
 "mark":{"type":"text","color":"#26a69a","fontSize":13,"align":"left"},
 "encoding":{"text":{"field":"t"},"x":{"field":"n","type":"quantitative","scale":{"domain":[0,1,2,3,4],"range":[274,322,367,413,449]}},"y":{"datum":0,"type":"quantitative","scale":{"domain":[0,1],"range":[58,59]}}}},
{"data":{"values":[{"n":0,"t":"0.820","c":"r"},{"n":1,"t":"SELL","c":"r"},{"n":2,"t":"0.823","c":"b"},{"n":3,"t":"BUY","c":"b"},{"n":4,"t":"11","c":"w"},{"n":5,"t":"1","c":"w"},{"n":6,"t":"99+","c":"w"},{"n":7,"t":"59","c":"w"},{"n":8,"t":"Publish","c":"w"},{"n":9,"t":"M","c":"g"},{"n":10,"t":"[","c":"r"},{"n":11,"t":"]","c":"r"}]},
 "mark":{"type":"text","fontSize":12},
 "encoding":{"text":{"field":"t"},
  "x":{"field":"n","type":"quantitative","scale":{"domain":[0,1,2,3,4,5,6,7,8,9,10,11],"range":[91,91,186,186,39,1068,1061,1065,1041,25,17,33]}},
  "y":{"field":"n","type":"quantitative","scale":{"domain":[0,1,2,3,4,5,6,7,8,9,10,11],"range":[85,98,85,98,9,192,895,942,19,19,19,19]}},
  "color":{"condition":[{"test":"datum.c=='r'","value":"#f23645"},{"test":"datum.c=='b'","value":"#2962ff"},{"test":"datum.c=='g'","value":"#00e676"}],"value":"#ffffff"}}},
{"data":{"values":[{"n":0,"t":"1"},{"n":1,"t":"5"},{"n":2,"t":"A"},{"n":3,"t":"C"}]},
 "mark":{"type":"text","color":"#131722","fontSize":9,"fontWeight":"bold"},
 "encoding":{"text":{"field":"t"},"x":{"field":"n","type":"quantitative","scale":{"domain":[0,1,2,3],"range":[580,594,618,632]}},"y":{"datum":0,"type":"quantitative","scale":{"domain":[0,1],"range":[110,111]}}}},
{"data":{"values":[{"n":0}]},
 "mark":{"type":"point","shape":"M-102 -21H102Q105 -21 105 -18V18Q105 21 102 21H-102Q-105 21 -105 18V-18Q-105 -21 -102 -21Z","filled":true,"size":4,"color":"#2e2e2e","opacity":1},
 "encoding":{"x":{"field":"n","type":"quantitative","scale":{"domain":[0,1],"range":[115.5,116.5]}},"y":{"field":"n","type":"quantitative","scale":{"domain":[0,1],"range":[63,64]}}}},
{"data":{"values":[{"n":0,"t":"Logged in as MahersahamOfficial"},{"n":1,"t":"Active layout: INtraswing 1D"}]},
 "mark":{"type":"text","color":"#e6e6e6","fontSize":12.4,"align":"left"},
 "encoding":{"text":{"field":"t"},"x":{"datum":0,"type":"quantitative","scale":{"domain":[0,1],"range":[18,19]}},"y":{"field":"n","type":"quantitative","scale":{"domain":[0,1],"range":[55,73]}}}}
]
}
